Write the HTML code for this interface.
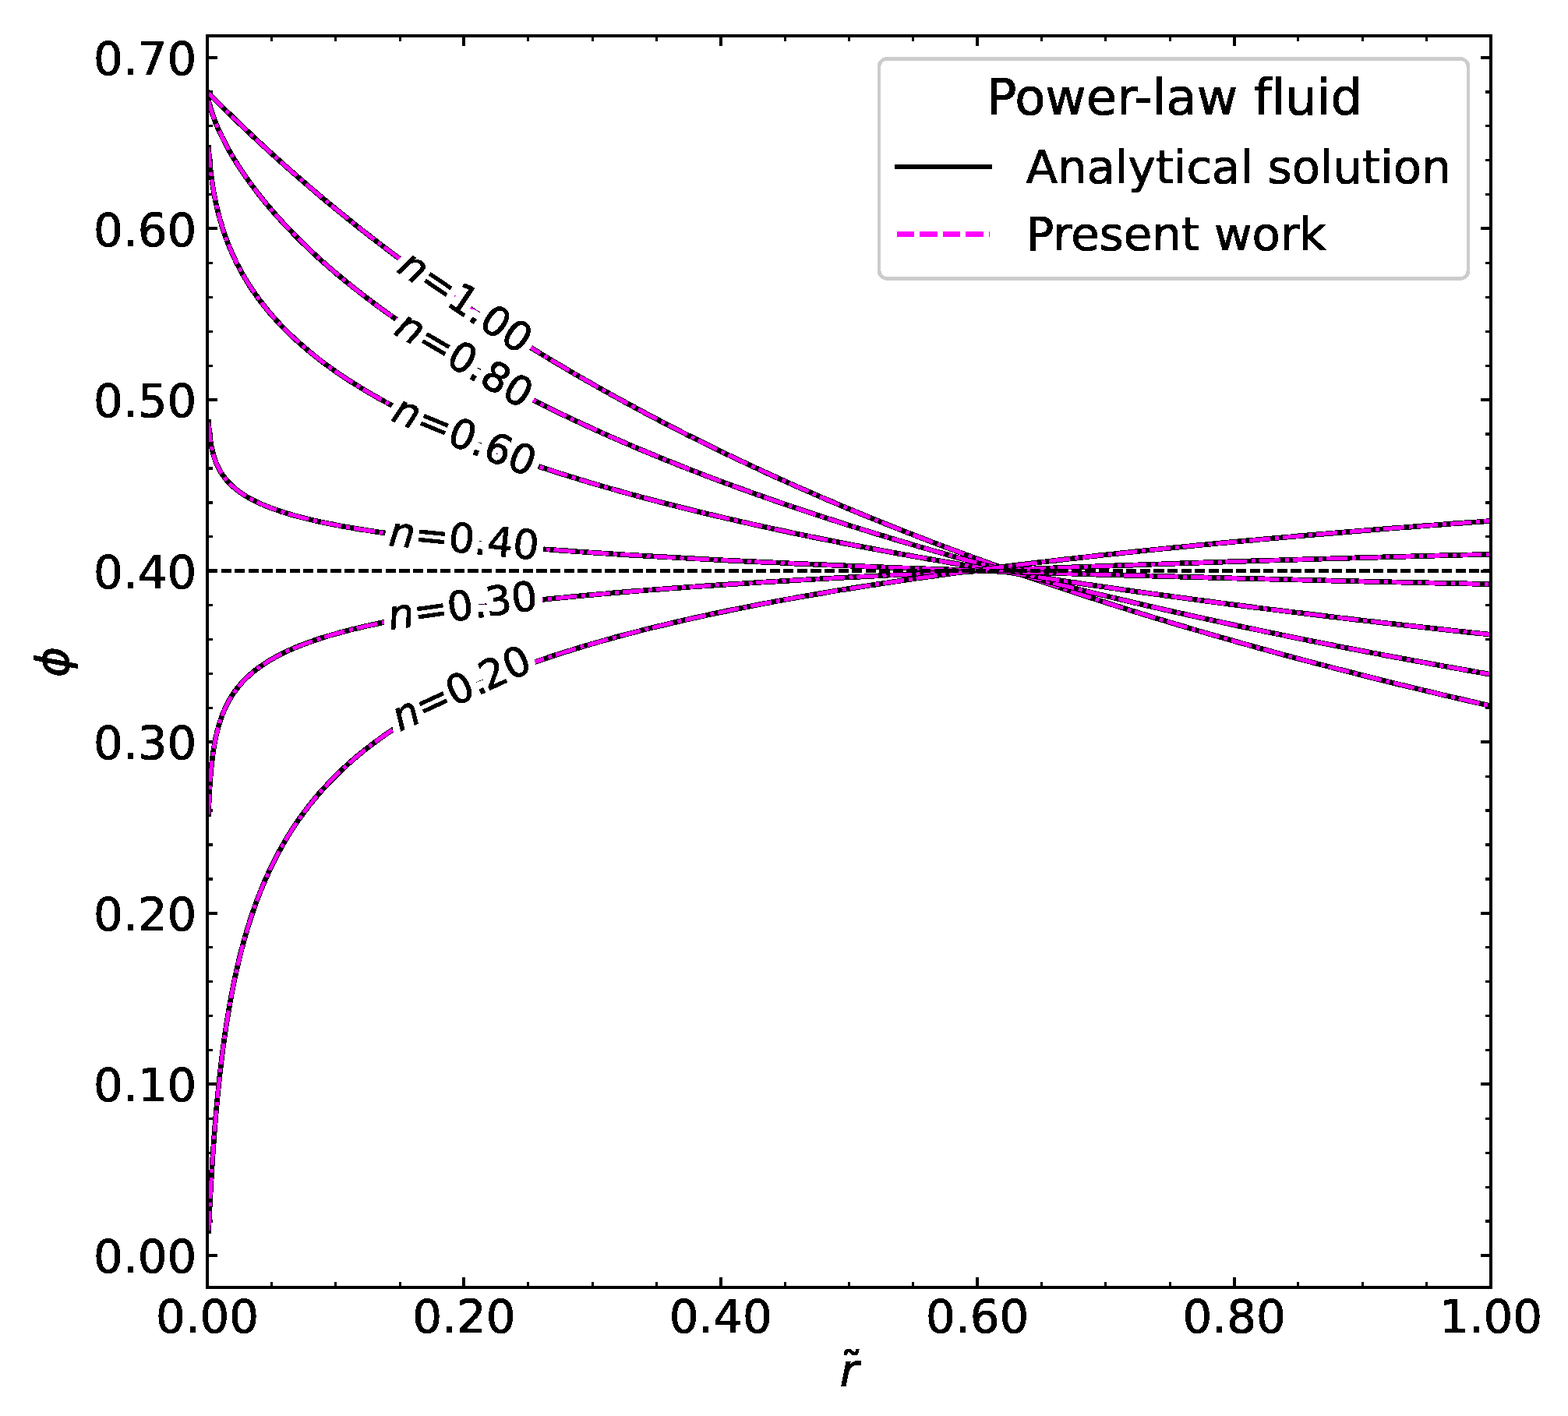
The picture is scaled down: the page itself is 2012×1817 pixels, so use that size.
<!DOCTYPE html>
<html lang="en">
<head>
<meta charset="utf-8">
<title>Power-law fluid: particle concentration profiles</title>
<style>
html,body{margin:0;padding:0;background:#fff;}
body{width:2012px;height:1817px;overflow:hidden;}
svg{display:block;}
text{font-kerning:normal;font-variant-ligatures:none;font-feature-settings:"liga" 0,"kern" 1;}
</style>
</head>
<body>
<svg width="2012" height="1817" viewBox="0 0 2012 1817" role="img" aria-label="Particle volume fraction versus dimensionless radius for a power-law fluid">
<defs><clipPath id="ax"><rect x="266" y="46" width="1647" height="1606"/></clipPath>
<filter id="crisp" filterUnits="userSpaceOnUse" x="0" y="0" width="2012" height="1817" color-interpolation-filters="sRGB"><feComponentTransfer><feFuncR type="discrete" tableValues="0 0 1 1"/><feFuncG type="discrete" tableValues="0 0 1 1"/><feFuncB type="discrete" tableValues="0 0 1 1"/></feComponentTransfer></filter></defs>
<g filter="url(#crisp)">
<rect width="2012" height="1817" fill="#fff"/>
<path d="M266.00 1652 v-13 M266.00 46 v13 M595.00 1652 v-13 M595.00 46 v13 M925.00 1652 v-13 M925.00 46 v13 M1254.00 1652 v-13 M1254.00 46 v13 M1584.00 1652 v-13 M1584.00 46 v13 M1913.00 1652 v-13 M1913.00 46 v13 M266 1611.00 h13 M1913 1611.00 h-13 M266 1391.00 h13 M1913 1391.00 h-13 M266 1172.00 h13 M1913 1172.00 h-13 M266 952.00 h13 M1913 952.00 h-13 M266 733.00 h13 M1913 733.00 h-13 M266 513.00 h13 M1913 513.00 h-13 M266 293.00 h13 M1913 293.00 h-13 M266 74.00 h13 M1913 74.00 h-13" stroke="#000" stroke-width="4" fill="none"/>
<path d="M348.35 1652 v-7 M348.35 46 v7 M430.70 1652 v-7 M430.70 46 v7 M513.05 1652 v-7 M513.05 46 v7 M677.75 1652 v-7 M677.75 46 v7 M760.10 1652 v-7 M760.10 46 v7 M842.45 1652 v-7 M842.45 46 v7 M1007.15 1652 v-7 M1007.15 46 v7 M1089.50 1652 v-7 M1089.50 46 v7 M1171.85 1652 v-7 M1171.85 46 v7 M1336.55 1652 v-7 M1336.55 46 v7 M1418.90 1652 v-7 M1418.90 46 v7 M1501.25 1652 v-7 M1501.25 46 v7 M1665.95 1652 v-7 M1665.95 46 v7 M1748.30 1652 v-7 M1748.30 46 v7 M1830.65 1652 v-7 M1830.65 46 v7 M266 1567.09 h7 M1913 1567.09 h-7 M266 1523.17 h7 M1913 1523.17 h-7 M266 1479.26 h7 M1913 1479.26 h-7 M266 1435.34 h7 M1913 1435.34 h-7 M266 1347.52 h7 M1913 1347.52 h-7 M266 1303.60 h7 M1913 1303.60 h-7 M266 1259.69 h7 M1913 1259.69 h-7 M266 1215.77 h7 M1913 1215.77 h-7 M266 1127.95 h7 M1913 1127.95 h-7 M266 1084.03 h7 M1913 1084.03 h-7 M266 1040.12 h7 M1913 1040.12 h-7 M266 996.20 h7 M1913 996.20 h-7 M266 908.38 h7 M1913 908.38 h-7 M266 864.46 h7 M1913 864.46 h-7 M266 820.55 h7 M1913 820.55 h-7 M266 776.63 h7 M1913 776.63 h-7 M266 688.81 h7 M1913 688.81 h-7 M266 644.89 h7 M1913 644.89 h-7 M266 600.98 h7 M1913 600.98 h-7 M266 557.06 h7 M1913 557.06 h-7 M266 469.24 h7 M1913 469.24 h-7 M266 425.32 h7 M1913 425.32 h-7 M266 381.41 h7 M1913 381.41 h-7 M266 337.49 h7 M1913 337.49 h-7 M266 249.67 h7 M1913 249.67 h-7 M266 205.75 h7 M1913 205.75 h-7 M266 161.84 h7 M1913 161.84 h-7 M266 117.92 h7 M1913 117.92 h-7" stroke="#000" stroke-width="3" fill="none"/>
<g clip-path="url(#ax)" fill="none" stroke-linejoin="round">
<polyline points="267.65,119.59 267.72,119.67 267.80,119.74 267.88,119.82 267.96,119.91 268.05,120.00 268.14,120.09 268.24,120.19 268.34,120.29 268.45,120.40 268.56,120.51 268.67,120.62 268.79,120.75 268.92,120.87 269.05,121.00 269.18,121.14 269.33,121.29 269.48,121.44 269.63,121.59 269.80,121.76 269.97,121.93 270.15,122.11 270.33,122.30 270.53,122.49 270.73,122.70 270.94,122.91 271.16,123.14 271.40,123.37 271.64,123.61 271.89,123.87 272.16,124.13 272.43,124.41 272.72,124.70 273.03,125.01 273.34,125.32 273.67,125.65 274.02,126.00 274.38,126.36 274.75,126.74 275.15,127.13 275.56,127.54 275.99,127.97 276.43,128.42 276.90,128.89 277.39,129.37 277.90,129.89 278.44,130.42 279.00,130.97 279.58,131.56 280.19,132.16 280.83,132.80 281.50,133.46 282.19,134.15 282.92,134.87 283.68,135.62 284.48,136.41 285.31,137.23 286.17,138.08 287.08,138.97 288.03,139.91 289.02,140.88 290.05,141.89 291.13,142.95 292.26,144.06 293.44,145.21 294.68,146.41 295.96,147.67 297.31,148.98 298.72,150.34 300.19,151.77 301.72,153.25 303.33,154.80 305.01,156.41 306.76,158.10 308.59,159.85 310.51,161.68 312.50,163.59 314.59,165.57 316.78,167.64 319.06,169.80 321.44,172.04 323.94,174.38 326.54,176.82 329.26,179.36 332.10,182.00 335.07,184.75 338.18,187.61 341.42,190.59 344.81,193.69 348.35,196.92 354.39,202.39 360.43,207.81 366.47,213.19 372.51,218.54 378.56,223.84 384.60,229.10 390.64,234.32 396.68,239.50 402.72,244.65 408.76,249.75 414.80,254.82 420.84,259.85 426.88,264.84 432.93,269.80 438.97,274.71 445.01,279.60 451.05,284.45 457.09,289.26 463.13,294.04 469.17,298.78 475.21,303.49 481.25,308.16 487.30,312.81 493.34,317.41 499.38,321.99 505.42,326.54 511.46,331.05 517.50,335.53 523.54,339.98 529.58,344.40 535.62,348.78 541.67,353.14 547.71,357.47 553.75,361.77 559.79,366.04 565.83,370.28 571.87,374.49 577.91,378.67 583.95,382.82 589.99,386.95 596.04,391.05 602.08,395.12 608.12,399.16 614.16,403.18 620.20,407.17 626.24,411.14 632.28,415.08 638.32,418.99 644.36,422.88 650.41,426.74 656.45,430.57 662.49,434.39 668.53,438.17 674.57,441.94 680.61,445.68 686.65,449.39 692.69,453.08 698.73,456.75 704.78,460.40 710.82,464.02 716.86,467.62 722.90,471.20 728.94,474.75 734.98,478.28 741.02,481.79 747.06,485.28 753.11,488.75 759.15,492.20 765.19,495.62 771.23,499.03 777.27,502.41 783.31,505.77 789.35,509.11 795.39,512.44 801.43,515.74 807.48,519.02 813.52,522.28 819.56,525.53 825.60,528.75 831.64,531.96 837.68,535.14 843.72,538.31 849.76,541.46 855.80,544.59 861.85,547.70 867.89,550.80 873.93,553.87 879.97,556.93 886.01,559.97 892.05,563.00 898.09,566.00 904.13,568.99 910.17,571.96 916.22,574.92 922.26,577.85 928.30,580.78 934.34,583.68 940.38,586.57 946.42,589.44 952.46,592.30 958.50,595.14 964.54,597.96 970.59,600.77 976.63,603.57 982.67,606.34 988.71,609.11 994.75,611.85 1000.79,614.59 1006.83,617.30 1012.87,620.01 1018.91,622.69 1024.96,625.37 1031.00,628.03 1037.04,630.67 1043.08,633.30 1049.12,635.92 1055.16,638.52 1061.20,641.11 1067.24,643.69 1073.28,646.25 1079.33,648.80 1085.37,651.33 1091.41,653.85 1097.45,656.36 1103.49,658.85 1109.53,661.34 1115.57,663.80 1121.61,666.26 1127.65,668.70 1133.70,671.13 1139.74,673.55 1145.78,675.96 1151.82,678.35 1157.86,680.73 1163.90,683.10 1169.94,685.46 1175.98,687.81 1182.02,690.14 1188.07,692.46 1194.11,694.77 1200.15,697.07 1206.19,699.36 1212.23,701.63 1218.27,703.89 1224.31,706.15 1230.35,708.39 1236.39,710.62 1242.44,712.84 1248.48,715.05 1254.52,717.25 1260.56,719.43 1266.60,721.61 1272.64,723.78 1278.68,725.93 1284.72,728.08 1290.76,730.21 1296.81,732.33 1302.85,734.45 1308.89,736.55 1314.93,738.65 1320.97,740.73 1327.01,742.80 1333.05,744.87 1339.09,746.92 1345.13,748.97 1351.18,751.00 1357.22,753.03 1363.26,755.04 1369.30,757.05 1375.34,759.04 1381.38,761.03 1387.42,763.01 1393.46,764.98 1399.50,766.94 1405.55,768.89 1411.59,770.83 1417.63,772.76 1423.67,774.69 1429.71,776.60 1435.75,778.51 1441.79,780.41 1447.83,782.30 1453.87,784.18 1459.92,786.05 1465.96,787.91 1472.00,789.77 1478.04,791.62 1484.08,793.45 1490.12,795.29 1496.16,797.11 1502.20,798.92 1508.24,800.73 1514.29,802.53 1520.33,804.32 1526.37,806.10 1532.41,807.87 1538.45,809.64 1544.49,811.40 1550.53,813.15 1556.57,814.89 1562.62,816.63 1568.66,818.36 1574.70,820.08 1580.74,821.79 1586.78,823.50 1592.82,825.19 1598.86,826.88 1604.90,828.57 1610.94,830.25 1616.99,831.92 1623.03,833.58 1629.07,835.23 1635.11,836.88 1641.15,838.52 1647.19,840.16 1653.23,841.78 1659.27,843.40 1665.31,845.02 1671.36,846.63 1677.40,848.23 1683.44,849.82 1689.48,851.41 1695.52,852.99 1701.56,854.56 1707.60,856.13 1713.64,857.69 1719.68,859.24 1725.73,860.79 1731.77,862.33 1737.81,863.87 1743.85,865.40 1749.89,866.92 1755.93,868.44 1761.97,869.95 1768.01,871.45 1774.05,872.95 1780.10,874.44 1786.14,875.93 1792.18,877.41 1798.22,878.88 1804.26,880.35 1810.30,881.81 1816.34,883.27 1822.38,884.72 1828.42,886.16 1834.47,887.60 1840.51,889.04 1846.55,890.46 1852.59,891.89 1858.63,893.30 1864.67,894.71 1870.71,896.12 1876.75,897.52 1882.79,898.91 1888.84,900.30 1894.88,901.69 1900.92,903.06 1906.96,904.44 1913.00,905.80" stroke="#000" stroke-width="6.7" stroke-linecap="square"/>
<polyline points="267.65,119.59 267.72,119.67 267.80,119.74 267.88,119.82 267.96,119.91 268.05,120.00 268.14,120.09 268.24,120.19 268.34,120.29 268.45,120.40 268.56,120.51 268.67,120.62 268.79,120.75 268.92,120.87 269.05,121.00 269.18,121.14 269.33,121.29 269.48,121.44 269.63,121.59 269.80,121.76 269.97,121.93 270.15,122.11 270.33,122.30 270.53,122.49 270.73,122.70 270.94,122.91 271.16,123.14 271.40,123.37 271.64,123.61 271.89,123.87 272.16,124.13 272.43,124.41 272.72,124.70 273.03,125.01 273.34,125.32 273.67,125.65 274.02,126.00 274.38,126.36 274.75,126.74 275.15,127.13 275.56,127.54 275.99,127.97 276.43,128.42 276.90,128.89 277.39,129.37 277.90,129.89 278.44,130.42 279.00,130.97 279.58,131.56 280.19,132.16 280.83,132.80 281.50,133.46 282.19,134.15 282.92,134.87 283.68,135.62 284.48,136.41 285.31,137.23 286.17,138.08 287.08,138.97 288.03,139.91 289.02,140.88 290.05,141.89 291.13,142.95 292.26,144.06 293.44,145.21 294.68,146.41 295.96,147.67 297.31,148.98 298.72,150.34 300.19,151.77 301.72,153.25 303.33,154.80 305.01,156.41 306.76,158.10 308.59,159.85 310.51,161.68 312.50,163.59 314.59,165.57 316.78,167.64 319.06,169.80 321.44,172.04 323.94,174.38 326.54,176.82 329.26,179.36 332.10,182.00 335.07,184.75 338.18,187.61 341.42,190.59 344.81,193.69 348.35,196.92 354.39,202.39 360.43,207.81 366.47,213.19 372.51,218.54 378.56,223.84 384.60,229.10 390.64,234.32 396.68,239.50 402.72,244.65 408.76,249.75 414.80,254.82 420.84,259.85 426.88,264.84 432.93,269.80 438.97,274.71 445.01,279.60 451.05,284.45 457.09,289.26 463.13,294.04 469.17,298.78 475.21,303.49 481.25,308.16 487.30,312.81 493.34,317.41 499.38,321.99 505.42,326.54 511.46,331.05 517.50,335.53 523.54,339.98 529.58,344.40 535.62,348.78 541.67,353.14 547.71,357.47 553.75,361.77 559.79,366.04 565.83,370.28 571.87,374.49 577.91,378.67 583.95,382.82 589.99,386.95 596.04,391.05 602.08,395.12 608.12,399.16 614.16,403.18 620.20,407.17 626.24,411.14 632.28,415.08 638.32,418.99 644.36,422.88 650.41,426.74 656.45,430.57 662.49,434.39 668.53,438.17 674.57,441.94 680.61,445.68 686.65,449.39 692.69,453.08 698.73,456.75 704.78,460.40 710.82,464.02 716.86,467.62 722.90,471.20 728.94,474.75 734.98,478.28 741.02,481.79 747.06,485.28 753.11,488.75 759.15,492.20 765.19,495.62 771.23,499.03 777.27,502.41 783.31,505.77 789.35,509.11 795.39,512.44 801.43,515.74 807.48,519.02 813.52,522.28 819.56,525.53 825.60,528.75 831.64,531.96 837.68,535.14 843.72,538.31 849.76,541.46 855.80,544.59 861.85,547.70 867.89,550.80 873.93,553.87 879.97,556.93 886.01,559.97 892.05,563.00 898.09,566.00 904.13,568.99 910.17,571.96 916.22,574.92 922.26,577.85 928.30,580.78 934.34,583.68 940.38,586.57 946.42,589.44 952.46,592.30 958.50,595.14 964.54,597.96 970.59,600.77 976.63,603.57 982.67,606.34 988.71,609.11 994.75,611.85 1000.79,614.59 1006.83,617.30 1012.87,620.01 1018.91,622.69 1024.96,625.37 1031.00,628.03 1037.04,630.67 1043.08,633.30 1049.12,635.92 1055.16,638.52 1061.20,641.11 1067.24,643.69 1073.28,646.25 1079.33,648.80 1085.37,651.33 1091.41,653.85 1097.45,656.36 1103.49,658.85 1109.53,661.34 1115.57,663.80 1121.61,666.26 1127.65,668.70 1133.70,671.13 1139.74,673.55 1145.78,675.96 1151.82,678.35 1157.86,680.73 1163.90,683.10 1169.94,685.46 1175.98,687.81 1182.02,690.14 1188.07,692.46 1194.11,694.77 1200.15,697.07 1206.19,699.36 1212.23,701.63 1218.27,703.89 1224.31,706.15 1230.35,708.39 1236.39,710.62 1242.44,712.84 1248.48,715.05 1254.52,717.25 1260.56,719.43 1266.60,721.61 1272.64,723.78 1278.68,725.93 1284.72,728.08 1290.76,730.21 1296.81,732.33 1302.85,734.45 1308.89,736.55 1314.93,738.65 1320.97,740.73 1327.01,742.80 1333.05,744.87 1339.09,746.92 1345.13,748.97 1351.18,751.00 1357.22,753.03 1363.26,755.04 1369.30,757.05 1375.34,759.04 1381.38,761.03 1387.42,763.01 1393.46,764.98 1399.50,766.94 1405.55,768.89 1411.59,770.83 1417.63,772.76 1423.67,774.69 1429.71,776.60 1435.75,778.51 1441.79,780.41 1447.83,782.30 1453.87,784.18 1459.92,786.05 1465.96,787.91 1472.00,789.77 1478.04,791.62 1484.08,793.45 1490.12,795.29 1496.16,797.11 1502.20,798.92 1508.24,800.73 1514.29,802.53 1520.33,804.32 1526.37,806.10 1532.41,807.87 1538.45,809.64 1544.49,811.40 1550.53,813.15 1556.57,814.89 1562.62,816.63 1568.66,818.36 1574.70,820.08 1580.74,821.79 1586.78,823.50 1592.82,825.19 1598.86,826.88 1604.90,828.57 1610.94,830.25 1616.99,831.92 1623.03,833.58 1629.07,835.23 1635.11,836.88 1641.15,838.52 1647.19,840.16 1653.23,841.78 1659.27,843.40 1665.31,845.02 1671.36,846.63 1677.40,848.23 1683.44,849.82 1689.48,851.41 1695.52,852.99 1701.56,854.56 1707.60,856.13 1713.64,857.69 1719.68,859.24 1725.73,860.79 1731.77,862.33 1737.81,863.87 1743.85,865.40 1749.89,866.92 1755.93,868.44 1761.97,869.95 1768.01,871.45 1774.05,872.95 1780.10,874.44 1786.14,875.93 1792.18,877.41 1798.22,878.88 1804.26,880.35 1810.30,881.81 1816.34,883.27 1822.38,884.72 1828.42,886.16 1834.47,887.60 1840.51,889.04 1846.55,890.46 1852.59,891.89 1858.63,893.30 1864.67,894.71 1870.71,896.12 1876.75,897.52 1882.79,898.91 1888.84,900.30 1894.88,901.69 1900.92,903.06 1906.96,904.44 1913.00,905.80" stroke="#f0f" stroke-width="5" stroke-dasharray="27.3 5.9 5.05 4.8" stroke-dashoffset="1.6"/>
<polyline points="267.65,128.94 267.72,129.28 267.80,129.62 267.88,129.98 267.96,130.35 268.05,130.73 268.14,131.12 268.24,131.52 268.34,131.94 268.45,132.37 268.56,132.81 268.67,133.26 268.79,133.73 268.92,134.22 269.05,134.71 269.18,135.23 269.33,135.75 269.48,136.30 269.63,136.86 269.80,137.43 269.97,138.03 270.15,138.64 270.33,139.27 270.53,139.92 270.73,140.59 270.94,141.28 271.16,141.99 271.40,142.72 271.64,143.47 271.89,144.25 272.16,145.05 272.43,145.87 272.72,146.72 273.03,147.59 273.34,148.49 273.67,149.42 274.02,150.37 274.38,151.35 274.75,152.36 275.15,153.40 275.56,154.47 275.99,155.57 276.43,156.71 276.90,157.88 277.39,159.08 277.90,160.32 278.44,161.60 279.00,162.91 279.58,164.26 280.19,165.65 280.83,167.08 281.50,168.55 282.19,170.07 282.92,171.63 283.68,173.23 284.48,174.88 285.31,176.58 286.17,178.33 287.08,180.13 288.03,181.98 289.02,183.88 290.05,185.84 291.13,187.85 292.26,189.92 293.44,192.05 294.68,194.24 295.96,196.49 297.31,198.80 298.72,201.18 300.19,203.62 301.72,206.14 303.33,208.72 305.01,211.38 306.76,214.10 308.59,216.91 310.51,219.79 312.50,222.74 314.59,225.78 316.78,228.91 319.06,232.11 321.44,235.40 323.94,238.78 326.54,242.25 329.26,245.82 332.10,249.47 335.07,253.22 338.18,257.07 341.42,261.03 344.81,265.08 348.35,269.24 354.39,276.16 360.43,282.87 366.47,289.41 372.51,295.77 378.56,301.98 384.60,308.03 390.64,313.95 396.68,319.73 402.72,325.40 408.76,330.94 414.80,336.38 420.84,341.71 426.88,346.94 432.93,352.08 438.97,357.12 445.01,362.08 451.05,366.96 457.09,371.75 463.13,376.47 469.17,381.12 475.21,385.70 481.25,390.21 487.30,394.65 493.34,399.03 499.38,403.35 505.42,407.61 511.46,411.81 517.50,415.95 523.54,420.04 529.58,424.08 535.62,428.07 541.67,432.01 547.71,435.90 553.75,439.75 559.79,443.55 565.83,447.31 571.87,451.02 577.91,454.69 583.95,458.32 589.99,461.91 596.04,465.46 602.08,468.98 608.12,472.45 614.16,475.89 620.20,479.30 626.24,482.67 632.28,486.01 638.32,489.31 644.36,492.58 650.41,495.82 656.45,499.03 662.49,502.21 668.53,505.36 674.57,508.48 680.61,511.57 686.65,514.63 692.69,517.67 698.73,520.68 704.78,523.66 710.82,526.62 716.86,529.55 722.90,532.45 728.94,535.33 734.98,538.19 741.02,541.02 747.06,543.83 753.11,546.62 759.15,549.38 765.19,552.12 771.23,554.84 777.27,557.54 783.31,560.22 789.35,562.87 795.39,565.51 801.43,568.12 807.48,570.72 813.52,573.30 819.56,575.85 825.60,578.39 831.64,580.91 837.68,583.41 843.72,585.89 849.76,588.36 855.80,590.81 861.85,593.23 867.89,595.65 873.93,598.04 879.97,600.42 886.01,602.78 892.05,605.13 898.09,607.46 904.13,609.78 910.17,612.08 916.22,614.36 922.26,616.63 928.30,618.88 934.34,621.12 940.38,623.34 946.42,625.55 952.46,627.75 958.50,629.93 964.54,632.10 970.59,634.25 976.63,636.39 982.67,638.52 988.71,640.63 994.75,642.73 1000.79,644.82 1006.83,646.90 1012.87,648.96 1018.91,651.01 1024.96,653.05 1031.00,655.07 1037.04,657.09 1043.08,659.09 1049.12,661.08 1055.16,663.06 1061.20,665.02 1067.24,666.98 1073.28,668.92 1079.33,670.85 1085.37,672.78 1091.41,674.69 1097.45,676.59 1103.49,678.48 1109.53,680.36 1115.57,682.23 1121.61,684.08 1127.65,685.93 1133.70,687.77 1139.74,689.60 1145.78,691.42 1151.82,693.22 1157.86,695.02 1163.90,696.81 1169.94,698.59 1175.98,700.36 1182.02,702.12 1188.07,703.87 1194.11,705.61 1200.15,707.35 1206.19,709.07 1212.23,710.79 1218.27,712.49 1224.31,714.19 1230.35,715.88 1236.39,717.56 1242.44,719.23 1248.48,720.90 1254.52,722.55 1260.56,724.20 1266.60,725.84 1272.64,727.47 1278.68,729.09 1284.72,730.70 1290.76,732.31 1296.81,733.91 1302.85,735.50 1308.89,737.09 1314.93,738.66 1320.97,740.23 1327.01,741.79 1333.05,743.34 1339.09,744.89 1345.13,746.43 1351.18,747.96 1357.22,749.49 1363.26,751.00 1369.30,752.51 1375.34,754.02 1381.38,755.51 1387.42,757.00 1393.46,758.49 1399.50,759.96 1405.55,761.43 1411.59,762.89 1417.63,764.35 1423.67,765.80 1429.71,767.24 1435.75,768.68 1441.79,770.11 1447.83,771.53 1453.87,772.95 1459.92,774.36 1465.96,775.77 1472.00,777.17 1478.04,778.56 1484.08,779.95 1490.12,781.33 1496.16,782.70 1502.20,784.07 1508.24,785.43 1514.29,786.79 1520.33,788.14 1526.37,789.49 1532.41,790.83 1538.45,792.16 1544.49,793.49 1550.53,794.82 1556.57,796.13 1562.62,797.45 1568.66,798.75 1574.70,800.05 1580.74,801.35 1586.78,802.64 1592.82,803.93 1598.86,805.21 1604.90,806.48 1610.94,807.75 1616.99,809.02 1623.03,810.28 1629.07,811.53 1635.11,812.78 1641.15,814.03 1647.19,815.27 1653.23,816.50 1659.27,817.73 1665.31,818.96 1671.36,820.18 1677.40,821.39 1683.44,822.60 1689.48,823.81 1695.52,825.01 1701.56,826.21 1707.60,827.40 1713.64,828.59 1719.68,829.77 1725.73,830.95 1731.77,832.12 1737.81,833.29 1743.85,834.46 1749.89,835.62 1755.93,836.78 1761.97,837.93 1768.01,839.08 1774.05,840.22 1780.10,841.36 1786.14,842.49 1792.18,843.62 1798.22,844.75 1804.26,845.87 1810.30,846.99 1816.34,848.10 1822.38,849.21 1828.42,850.32 1834.47,851.42 1840.51,852.52 1846.55,853.61 1852.59,854.70 1858.63,855.79 1864.67,856.87 1870.71,857.95 1876.75,859.03 1882.79,860.10 1888.84,861.16 1894.88,862.23 1900.92,863.29 1906.96,864.34 1913.00,865.39" stroke="#000" stroke-width="6.7" stroke-linecap="square"/>
<polyline points="267.65,128.94 267.72,129.28 267.80,129.62 267.88,129.98 267.96,130.35 268.05,130.73 268.14,131.12 268.24,131.52 268.34,131.94 268.45,132.37 268.56,132.81 268.67,133.26 268.79,133.73 268.92,134.22 269.05,134.71 269.18,135.23 269.33,135.75 269.48,136.30 269.63,136.86 269.80,137.43 269.97,138.03 270.15,138.64 270.33,139.27 270.53,139.92 270.73,140.59 270.94,141.28 271.16,141.99 271.40,142.72 271.64,143.47 271.89,144.25 272.16,145.05 272.43,145.87 272.72,146.72 273.03,147.59 273.34,148.49 273.67,149.42 274.02,150.37 274.38,151.35 274.75,152.36 275.15,153.40 275.56,154.47 275.99,155.57 276.43,156.71 276.90,157.88 277.39,159.08 277.90,160.32 278.44,161.60 279.00,162.91 279.58,164.26 280.19,165.65 280.83,167.08 281.50,168.55 282.19,170.07 282.92,171.63 283.68,173.23 284.48,174.88 285.31,176.58 286.17,178.33 287.08,180.13 288.03,181.98 289.02,183.88 290.05,185.84 291.13,187.85 292.26,189.92 293.44,192.05 294.68,194.24 295.96,196.49 297.31,198.80 298.72,201.18 300.19,203.62 301.72,206.14 303.33,208.72 305.01,211.38 306.76,214.10 308.59,216.91 310.51,219.79 312.50,222.74 314.59,225.78 316.78,228.91 319.06,232.11 321.44,235.40 323.94,238.78 326.54,242.25 329.26,245.82 332.10,249.47 335.07,253.22 338.18,257.07 341.42,261.03 344.81,265.08 348.35,269.24 354.39,276.16 360.43,282.87 366.47,289.41 372.51,295.77 378.56,301.98 384.60,308.03 390.64,313.95 396.68,319.73 402.72,325.40 408.76,330.94 414.80,336.38 420.84,341.71 426.88,346.94 432.93,352.08 438.97,357.12 445.01,362.08 451.05,366.96 457.09,371.75 463.13,376.47 469.17,381.12 475.21,385.70 481.25,390.21 487.30,394.65 493.34,399.03 499.38,403.35 505.42,407.61 511.46,411.81 517.50,415.95 523.54,420.04 529.58,424.08 535.62,428.07 541.67,432.01 547.71,435.90 553.75,439.75 559.79,443.55 565.83,447.31 571.87,451.02 577.91,454.69 583.95,458.32 589.99,461.91 596.04,465.46 602.08,468.98 608.12,472.45 614.16,475.89 620.20,479.30 626.24,482.67 632.28,486.01 638.32,489.31 644.36,492.58 650.41,495.82 656.45,499.03 662.49,502.21 668.53,505.36 674.57,508.48 680.61,511.57 686.65,514.63 692.69,517.67 698.73,520.68 704.78,523.66 710.82,526.62 716.86,529.55 722.90,532.45 728.94,535.33 734.98,538.19 741.02,541.02 747.06,543.83 753.11,546.62 759.15,549.38 765.19,552.12 771.23,554.84 777.27,557.54 783.31,560.22 789.35,562.87 795.39,565.51 801.43,568.12 807.48,570.72 813.52,573.30 819.56,575.85 825.60,578.39 831.64,580.91 837.68,583.41 843.72,585.89 849.76,588.36 855.80,590.81 861.85,593.23 867.89,595.65 873.93,598.04 879.97,600.42 886.01,602.78 892.05,605.13 898.09,607.46 904.13,609.78 910.17,612.08 916.22,614.36 922.26,616.63 928.30,618.88 934.34,621.12 940.38,623.34 946.42,625.55 952.46,627.75 958.50,629.93 964.54,632.10 970.59,634.25 976.63,636.39 982.67,638.52 988.71,640.63 994.75,642.73 1000.79,644.82 1006.83,646.90 1012.87,648.96 1018.91,651.01 1024.96,653.05 1031.00,655.07 1037.04,657.09 1043.08,659.09 1049.12,661.08 1055.16,663.06 1061.20,665.02 1067.24,666.98 1073.28,668.92 1079.33,670.85 1085.37,672.78 1091.41,674.69 1097.45,676.59 1103.49,678.48 1109.53,680.36 1115.57,682.23 1121.61,684.08 1127.65,685.93 1133.70,687.77 1139.74,689.60 1145.78,691.42 1151.82,693.22 1157.86,695.02 1163.90,696.81 1169.94,698.59 1175.98,700.36 1182.02,702.12 1188.07,703.87 1194.11,705.61 1200.15,707.35 1206.19,709.07 1212.23,710.79 1218.27,712.49 1224.31,714.19 1230.35,715.88 1236.39,717.56 1242.44,719.23 1248.48,720.90 1254.52,722.55 1260.56,724.20 1266.60,725.84 1272.64,727.47 1278.68,729.09 1284.72,730.70 1290.76,732.31 1296.81,733.91 1302.85,735.50 1308.89,737.09 1314.93,738.66 1320.97,740.23 1327.01,741.79 1333.05,743.34 1339.09,744.89 1345.13,746.43 1351.18,747.96 1357.22,749.49 1363.26,751.00 1369.30,752.51 1375.34,754.02 1381.38,755.51 1387.42,757.00 1393.46,758.49 1399.50,759.96 1405.55,761.43 1411.59,762.89 1417.63,764.35 1423.67,765.80 1429.71,767.24 1435.75,768.68 1441.79,770.11 1447.83,771.53 1453.87,772.95 1459.92,774.36 1465.96,775.77 1472.00,777.17 1478.04,778.56 1484.08,779.95 1490.12,781.33 1496.16,782.70 1502.20,784.07 1508.24,785.43 1514.29,786.79 1520.33,788.14 1526.37,789.49 1532.41,790.83 1538.45,792.16 1544.49,793.49 1550.53,794.82 1556.57,796.13 1562.62,797.45 1568.66,798.75 1574.70,800.05 1580.74,801.35 1586.78,802.64 1592.82,803.93 1598.86,805.21 1604.90,806.48 1610.94,807.75 1616.99,809.02 1623.03,810.28 1629.07,811.53 1635.11,812.78 1641.15,814.03 1647.19,815.27 1653.23,816.50 1659.27,817.73 1665.31,818.96 1671.36,820.18 1677.40,821.39 1683.44,822.60 1689.48,823.81 1695.52,825.01 1701.56,826.21 1707.60,827.40 1713.64,828.59 1719.68,829.77 1725.73,830.95 1731.77,832.12 1737.81,833.29 1743.85,834.46 1749.89,835.62 1755.93,836.78 1761.97,837.93 1768.01,839.08 1774.05,840.22 1780.10,841.36 1786.14,842.49 1792.18,843.62 1798.22,844.75 1804.26,845.87 1810.30,846.99 1816.34,848.10 1822.38,849.21 1828.42,850.32 1834.47,851.42 1840.51,852.52 1846.55,853.61 1852.59,854.70 1858.63,855.79 1864.67,856.87 1870.71,857.95 1876.75,859.03 1882.79,860.10 1888.84,861.16 1894.88,862.23 1900.92,863.29 1906.96,864.34 1913.00,865.39" stroke="#f0f" stroke-width="5" stroke-dasharray="27.3 5.9 5.05 4.8" stroke-dashoffset="1.6"/>
<polyline points="267.65,189.23 267.72,190.39 267.80,191.58 267.88,192.78 267.96,194.00 268.05,195.24 268.14,196.51 268.24,197.79 268.34,199.09 268.45,200.41 268.56,201.75 268.67,203.11 268.79,204.50 268.92,205.91 269.05,207.33 269.18,208.78 269.33,210.26 269.48,211.75 269.63,213.27 269.80,214.81 269.97,216.38 270.15,217.97 270.33,219.59 270.53,221.23 270.73,222.89 270.94,224.58 271.16,226.30 271.40,228.04 271.64,229.81 271.89,231.61 272.16,233.44 272.43,235.29 272.72,237.17 273.03,239.08 273.34,241.01 273.67,242.98 274.02,244.98 274.38,247.00 274.75,249.06 275.15,251.15 275.56,253.26 275.99,255.41 276.43,257.60 276.90,259.81 277.39,262.06 277.90,264.34 278.44,266.65 279.00,269.00 279.58,271.38 280.19,273.80 280.83,276.25 281.50,278.74 282.19,281.27 282.92,283.83 283.68,286.42 284.48,289.06 285.31,291.73 286.17,294.44 287.08,297.19 288.03,299.98 289.02,302.81 290.05,305.68 291.13,308.59 292.26,311.54 293.44,314.53 294.68,317.56 295.96,320.64 297.31,323.75 298.72,326.91 300.19,330.12 301.72,333.37 303.33,336.66 305.01,339.99 306.76,343.38 308.59,346.80 310.51,350.28 312.50,353.80 314.59,357.36 316.78,360.98 319.06,364.64 321.44,368.35 323.94,372.11 326.54,375.91 329.26,379.77 332.10,383.68 335.07,387.63 338.18,391.64 341.42,395.70 344.81,399.80 348.35,403.96 354.39,410.77 360.43,417.25 366.47,423.44 372.51,429.36 378.56,435.04 384.60,440.51 390.64,445.77 396.68,450.85 402.72,455.76 408.76,460.51 414.80,465.12 420.84,469.59 426.88,473.93 432.93,478.15 438.97,482.25 445.01,486.26 451.05,490.16 457.09,493.96 463.13,497.68 469.17,501.31 475.21,504.86 481.25,508.33 487.30,511.73 493.34,515.06 499.38,518.33 505.42,521.53 511.46,524.66 517.50,527.74 523.54,530.77 529.58,533.73 535.62,536.65 541.67,539.52 547.71,542.33 553.75,545.11 559.79,547.83 565.83,550.52 571.87,553.16 577.91,555.76 583.95,558.32 589.99,560.85 596.04,563.33 602.08,565.79 608.12,568.20 614.16,570.59 620.20,572.94 626.24,575.26 632.28,577.55 638.32,579.81 644.36,582.04 650.41,584.25 656.45,586.42 662.49,588.57 668.53,590.70 674.57,592.80 680.61,594.87 686.65,596.92 692.69,598.95 698.73,600.95 704.78,602.93 710.82,604.89 716.86,606.83 722.90,608.74 728.94,610.64 734.98,612.52 741.02,614.38 747.06,616.22 753.11,618.04 759.15,619.84 765.19,621.62 771.23,623.39 777.27,625.14 783.31,626.87 789.35,628.59 795.39,630.29 801.43,631.97 807.48,633.64 813.52,635.30 819.56,636.94 825.60,638.56 831.64,640.17 837.68,641.77 843.72,643.35 849.76,644.92 855.80,646.47 861.85,648.02 867.89,649.55 873.93,651.06 879.97,652.57 886.01,654.06 892.05,655.54 898.09,657.01 904.13,658.47 910.17,659.91 916.22,661.35 922.26,662.77 928.30,664.18 934.34,665.59 940.38,666.98 946.42,668.36 952.46,669.73 958.50,671.09 964.54,672.44 970.59,673.78 976.63,675.11 982.67,676.44 988.71,677.75 994.75,679.05 1000.79,680.35 1006.83,681.63 1012.87,682.91 1018.91,684.18 1024.96,685.44 1031.00,686.69 1037.04,687.93 1043.08,689.17 1049.12,690.40 1055.16,691.61 1061.20,692.83 1067.24,694.03 1073.28,695.22 1079.33,696.41 1085.37,697.59 1091.41,698.77 1097.45,699.93 1103.49,701.09 1109.53,702.24 1115.57,703.39 1121.61,704.53 1127.65,705.66 1133.70,706.78 1139.74,707.90 1145.78,709.01 1151.82,710.11 1157.86,711.21 1163.90,712.30 1169.94,713.39 1175.98,714.47 1182.02,715.54 1188.07,716.61 1194.11,717.67 1200.15,718.72 1206.19,719.77 1212.23,720.82 1218.27,721.85 1224.31,722.89 1230.35,723.91 1236.39,724.93 1242.44,725.95 1248.48,726.96 1254.52,727.96 1260.56,728.96 1266.60,729.96 1272.64,730.95 1278.68,731.93 1284.72,732.91 1290.76,733.88 1296.81,734.85 1302.85,735.82 1308.89,736.78 1314.93,737.73 1320.97,738.68 1327.01,739.62 1333.05,740.56 1339.09,741.50 1345.13,742.43 1351.18,743.36 1357.22,744.28 1363.26,745.20 1369.30,746.11 1375.34,747.02 1381.38,747.92 1387.42,748.82 1393.46,749.72 1399.50,750.61 1405.55,751.50 1411.59,752.38 1417.63,753.26 1423.67,754.14 1429.71,755.01 1435.75,755.87 1441.79,756.74 1447.83,757.60 1453.87,758.45 1459.92,759.31 1465.96,760.15 1472.00,761.00 1478.04,761.84 1484.08,762.67 1490.12,763.51 1496.16,764.34 1502.20,765.16 1508.24,765.99 1514.29,766.80 1520.33,767.62 1526.37,768.43 1532.41,769.24 1538.45,770.05 1544.49,770.85 1550.53,771.65 1556.57,772.44 1562.62,773.23 1568.66,774.02 1574.70,774.81 1580.74,775.59 1586.78,776.37 1592.82,777.14 1598.86,777.92 1604.90,778.68 1610.94,779.45 1616.99,780.21 1623.03,780.97 1629.07,781.73 1635.11,782.49 1641.15,783.24 1647.19,783.99 1653.23,784.73 1659.27,785.47 1665.31,786.21 1671.36,786.95 1677.40,787.68 1683.44,788.41 1689.48,789.14 1695.52,789.87 1701.56,790.59 1707.60,791.31 1713.64,792.03 1719.68,792.74 1725.73,793.45 1731.77,794.16 1737.81,794.87 1743.85,795.57 1749.89,796.28 1755.93,796.98 1761.97,797.67 1768.01,798.37 1774.05,799.06 1780.10,799.75 1786.14,800.43 1792.18,801.12 1798.22,801.80 1804.26,802.48 1810.30,803.15 1816.34,803.83 1822.38,804.50 1828.42,805.17 1834.47,805.84 1840.51,806.50 1846.55,807.16 1852.59,807.82 1858.63,808.48 1864.67,809.14 1870.71,809.79 1876.75,810.44 1882.79,811.09 1888.84,811.74 1894.88,812.38 1900.92,813.02 1906.96,813.67 1913.00,814.30" stroke="#000" stroke-width="6.7" stroke-linecap="square"/>
<polyline points="267.65,189.23 267.72,190.39 267.80,191.58 267.88,192.78 267.96,194.00 268.05,195.24 268.14,196.51 268.24,197.79 268.34,199.09 268.45,200.41 268.56,201.75 268.67,203.11 268.79,204.50 268.92,205.91 269.05,207.33 269.18,208.78 269.33,210.26 269.48,211.75 269.63,213.27 269.80,214.81 269.97,216.38 270.15,217.97 270.33,219.59 270.53,221.23 270.73,222.89 270.94,224.58 271.16,226.30 271.40,228.04 271.64,229.81 271.89,231.61 272.16,233.44 272.43,235.29 272.72,237.17 273.03,239.08 273.34,241.01 273.67,242.98 274.02,244.98 274.38,247.00 274.75,249.06 275.15,251.15 275.56,253.26 275.99,255.41 276.43,257.60 276.90,259.81 277.39,262.06 277.90,264.34 278.44,266.65 279.00,269.00 279.58,271.38 280.19,273.80 280.83,276.25 281.50,278.74 282.19,281.27 282.92,283.83 283.68,286.42 284.48,289.06 285.31,291.73 286.17,294.44 287.08,297.19 288.03,299.98 289.02,302.81 290.05,305.68 291.13,308.59 292.26,311.54 293.44,314.53 294.68,317.56 295.96,320.64 297.31,323.75 298.72,326.91 300.19,330.12 301.72,333.37 303.33,336.66 305.01,339.99 306.76,343.38 308.59,346.80 310.51,350.28 312.50,353.80 314.59,357.36 316.78,360.98 319.06,364.64 321.44,368.35 323.94,372.11 326.54,375.91 329.26,379.77 332.10,383.68 335.07,387.63 338.18,391.64 341.42,395.70 344.81,399.80 348.35,403.96 354.39,410.77 360.43,417.25 366.47,423.44 372.51,429.36 378.56,435.04 384.60,440.51 390.64,445.77 396.68,450.85 402.72,455.76 408.76,460.51 414.80,465.12 420.84,469.59 426.88,473.93 432.93,478.15 438.97,482.25 445.01,486.26 451.05,490.16 457.09,493.96 463.13,497.68 469.17,501.31 475.21,504.86 481.25,508.33 487.30,511.73 493.34,515.06 499.38,518.33 505.42,521.53 511.46,524.66 517.50,527.74 523.54,530.77 529.58,533.73 535.62,536.65 541.67,539.52 547.71,542.33 553.75,545.11 559.79,547.83 565.83,550.52 571.87,553.16 577.91,555.76 583.95,558.32 589.99,560.85 596.04,563.33 602.08,565.79 608.12,568.20 614.16,570.59 620.20,572.94 626.24,575.26 632.28,577.55 638.32,579.81 644.36,582.04 650.41,584.25 656.45,586.42 662.49,588.57 668.53,590.70 674.57,592.80 680.61,594.87 686.65,596.92 692.69,598.95 698.73,600.95 704.78,602.93 710.82,604.89 716.86,606.83 722.90,608.74 728.94,610.64 734.98,612.52 741.02,614.38 747.06,616.22 753.11,618.04 759.15,619.84 765.19,621.62 771.23,623.39 777.27,625.14 783.31,626.87 789.35,628.59 795.39,630.29 801.43,631.97 807.48,633.64 813.52,635.30 819.56,636.94 825.60,638.56 831.64,640.17 837.68,641.77 843.72,643.35 849.76,644.92 855.80,646.47 861.85,648.02 867.89,649.55 873.93,651.06 879.97,652.57 886.01,654.06 892.05,655.54 898.09,657.01 904.13,658.47 910.17,659.91 916.22,661.35 922.26,662.77 928.30,664.18 934.34,665.59 940.38,666.98 946.42,668.36 952.46,669.73 958.50,671.09 964.54,672.44 970.59,673.78 976.63,675.11 982.67,676.44 988.71,677.75 994.75,679.05 1000.79,680.35 1006.83,681.63 1012.87,682.91 1018.91,684.18 1024.96,685.44 1031.00,686.69 1037.04,687.93 1043.08,689.17 1049.12,690.40 1055.16,691.61 1061.20,692.83 1067.24,694.03 1073.28,695.22 1079.33,696.41 1085.37,697.59 1091.41,698.77 1097.45,699.93 1103.49,701.09 1109.53,702.24 1115.57,703.39 1121.61,704.53 1127.65,705.66 1133.70,706.78 1139.74,707.90 1145.78,709.01 1151.82,710.11 1157.86,711.21 1163.90,712.30 1169.94,713.39 1175.98,714.47 1182.02,715.54 1188.07,716.61 1194.11,717.67 1200.15,718.72 1206.19,719.77 1212.23,720.82 1218.27,721.85 1224.31,722.89 1230.35,723.91 1236.39,724.93 1242.44,725.95 1248.48,726.96 1254.52,727.96 1260.56,728.96 1266.60,729.96 1272.64,730.95 1278.68,731.93 1284.72,732.91 1290.76,733.88 1296.81,734.85 1302.85,735.82 1308.89,736.78 1314.93,737.73 1320.97,738.68 1327.01,739.62 1333.05,740.56 1339.09,741.50 1345.13,742.43 1351.18,743.36 1357.22,744.28 1363.26,745.20 1369.30,746.11 1375.34,747.02 1381.38,747.92 1387.42,748.82 1393.46,749.72 1399.50,750.61 1405.55,751.50 1411.59,752.38 1417.63,753.26 1423.67,754.14 1429.71,755.01 1435.75,755.87 1441.79,756.74 1447.83,757.60 1453.87,758.45 1459.92,759.31 1465.96,760.15 1472.00,761.00 1478.04,761.84 1484.08,762.67 1490.12,763.51 1496.16,764.34 1502.20,765.16 1508.24,765.99 1514.29,766.80 1520.33,767.62 1526.37,768.43 1532.41,769.24 1538.45,770.05 1544.49,770.85 1550.53,771.65 1556.57,772.44 1562.62,773.23 1568.66,774.02 1574.70,774.81 1580.74,775.59 1586.78,776.37 1592.82,777.14 1598.86,777.92 1604.90,778.68 1610.94,779.45 1616.99,780.21 1623.03,780.97 1629.07,781.73 1635.11,782.49 1641.15,783.24 1647.19,783.99 1653.23,784.73 1659.27,785.47 1665.31,786.21 1671.36,786.95 1677.40,787.68 1683.44,788.41 1689.48,789.14 1695.52,789.87 1701.56,790.59 1707.60,791.31 1713.64,792.03 1719.68,792.74 1725.73,793.45 1731.77,794.16 1737.81,794.87 1743.85,795.57 1749.89,796.28 1755.93,796.98 1761.97,797.67 1768.01,798.37 1774.05,799.06 1780.10,799.75 1786.14,800.43 1792.18,801.12 1798.22,801.80 1804.26,802.48 1810.30,803.15 1816.34,803.83 1822.38,804.50 1828.42,805.17 1834.47,805.84 1840.51,806.50 1846.55,807.16 1852.59,807.82 1858.63,808.48 1864.67,809.14 1870.71,809.79 1876.75,810.44 1882.79,811.09 1888.84,811.74 1894.88,812.38 1900.92,813.02 1906.96,813.67 1913.00,814.30" stroke="#f0f" stroke-width="5" stroke-dasharray="27.3 5.9 5.05 4.8" stroke-dashoffset="1.6"/>
<polyline points="267.65,541.64 267.72,542.77 267.80,543.91 267.88,545.04 267.96,546.18 268.05,547.33 268.14,548.47 268.24,549.62 268.34,550.76 268.45,551.92 268.56,553.07 268.67,554.23 268.79,555.39 268.92,556.55 269.05,557.71 269.18,558.88 269.33,560.05 269.48,561.22 269.63,562.39 269.80,563.57 269.97,564.74 270.15,565.93 270.33,567.11 270.53,568.30 270.73,569.48 270.94,570.67 271.16,571.87 271.40,573.06 271.64,574.26 271.89,575.46 272.16,576.67 272.43,577.87 272.72,579.08 273.03,580.29 273.34,581.50 273.67,582.72 274.02,583.94 274.38,585.16 274.75,586.38 275.15,587.61 275.56,588.83 275.99,590.06 276.43,591.30 276.90,592.53 277.39,593.77 277.90,595.01 278.44,596.25 279.00,597.50 279.58,598.75 280.19,600.00 280.83,601.25 281.50,602.51 282.19,603.76 282.92,605.02 283.68,606.29 284.48,607.55 285.31,608.82 286.17,610.09 287.08,611.36 288.03,612.64 289.02,613.91 290.05,615.19 291.13,616.48 292.26,617.76 293.44,619.05 294.68,620.34 295.96,621.63 297.31,622.93 298.72,624.22 300.19,625.52 301.72,626.83 303.33,628.13 305.01,629.44 306.76,630.75 308.59,632.06 310.51,633.38 312.50,634.69 314.59,636.01 316.78,637.33 319.06,638.66 321.44,639.99 323.94,641.32 326.54,642.65 329.26,643.98 332.10,645.32 335.07,646.66 338.18,648.00 341.42,649.34 344.81,650.69 348.35,652.04 354.39,654.22 360.43,656.26 366.47,658.18 372.51,659.99 378.56,661.70 384.60,663.33 390.64,664.88 396.68,666.36 402.72,667.78 408.76,669.13 414.80,670.44 420.84,671.69 426.88,672.90 432.93,674.06 438.97,675.18 445.01,676.27 451.05,677.32 457.09,678.34 463.13,679.33 469.17,680.30 475.21,681.23 481.25,682.14 487.30,683.02 493.34,683.88 499.38,684.72 505.42,685.54 511.46,686.34 517.50,687.12 523.54,687.88 529.58,688.63 535.62,689.36 541.67,690.07 547.71,690.77 553.75,691.46 559.79,692.13 565.83,692.78 571.87,693.43 577.91,694.06 583.95,694.68 589.99,695.29 596.04,695.89 602.08,696.48 608.12,697.06 614.16,697.63 620.20,698.19 626.24,698.74 632.28,699.28 638.32,699.81 644.36,700.34 650.41,700.86 656.45,701.37 662.49,701.87 668.53,702.36 674.57,702.85 680.61,703.33 686.65,703.80 692.69,704.27 698.73,704.73 704.78,705.18 710.82,705.63 716.86,706.08 722.90,706.51 728.94,706.94 734.98,707.37 741.02,707.79 747.06,708.21 753.11,708.62 759.15,709.02 765.19,709.43 771.23,709.82 777.27,710.21 783.31,710.60 789.35,710.98 795.39,711.36 801.43,711.74 807.48,712.11 813.52,712.48 819.56,712.84 825.60,713.20 831.64,713.55 837.68,713.90 843.72,714.25 849.76,714.60 855.80,714.94 861.85,715.28 867.89,715.61 873.93,715.94 879.97,716.27 886.01,716.60 892.05,716.92 898.09,717.24 904.13,717.55 910.17,717.87 916.22,718.18 922.26,718.48 928.30,718.79 934.34,719.09 940.38,719.39 946.42,719.69 952.46,719.98 958.50,720.28 964.54,720.57 970.59,720.85 976.63,721.14 982.67,721.42 988.71,721.70 994.75,721.98 1000.79,722.25 1006.83,722.53 1012.87,722.80 1018.91,723.07 1024.96,723.34 1031.00,723.60 1037.04,723.86 1043.08,724.13 1049.12,724.39 1055.16,724.64 1061.20,724.90 1067.24,725.15 1073.28,725.40 1079.33,725.65 1085.37,725.90 1091.41,726.15 1097.45,726.39 1103.49,726.64 1109.53,726.88 1115.57,727.12 1121.61,727.35 1127.65,727.59 1133.70,727.83 1139.74,728.06 1145.78,728.29 1151.82,728.52 1157.86,728.75 1163.90,728.98 1169.94,729.20 1175.98,729.43 1182.02,729.65 1188.07,729.87 1194.11,730.09 1200.15,730.31 1206.19,730.53 1212.23,730.74 1218.27,730.96 1224.31,731.17 1230.35,731.38 1236.39,731.59 1242.44,731.80 1248.48,732.01 1254.52,732.22 1260.56,732.42 1266.60,732.63 1272.64,732.83 1278.68,733.03 1284.72,733.23 1290.76,733.43 1296.81,733.63 1302.85,733.83 1308.89,734.03 1314.93,734.22 1320.97,734.42 1327.01,734.61 1333.05,734.80 1339.09,734.99 1345.13,735.18 1351.18,735.37 1357.22,735.56 1363.26,735.75 1369.30,735.93 1375.34,736.12 1381.38,736.30 1387.42,736.49 1393.46,736.67 1399.50,736.85 1405.55,737.03 1411.59,737.21 1417.63,737.39 1423.67,737.56 1429.71,737.74 1435.75,737.92 1441.79,738.09 1447.83,738.27 1453.87,738.44 1459.92,738.61 1465.96,738.78 1472.00,738.95 1478.04,739.12 1484.08,739.29 1490.12,739.46 1496.16,739.63 1502.20,739.80 1508.24,739.96 1514.29,740.13 1520.33,740.29 1526.37,740.45 1532.41,740.62 1538.45,740.78 1544.49,740.94 1550.53,741.10 1556.57,741.26 1562.62,741.42 1568.66,741.58 1574.70,741.74 1580.74,741.89 1586.78,742.05 1592.82,742.21 1598.86,742.36 1604.90,742.51 1610.94,742.67 1616.99,742.82 1623.03,742.97 1629.07,743.12 1635.11,743.28 1641.15,743.43 1647.19,743.58 1653.23,743.72 1659.27,743.87 1665.31,744.02 1671.36,744.17 1677.40,744.31 1683.44,744.46 1689.48,744.61 1695.52,744.75 1701.56,744.90 1707.60,745.04 1713.64,745.18 1719.68,745.32 1725.73,745.47 1731.77,745.61 1737.81,745.75 1743.85,745.89 1749.89,746.03 1755.93,746.17 1761.97,746.31 1768.01,746.44 1774.05,746.58 1780.10,746.72 1786.14,746.85 1792.18,746.99 1798.22,747.13 1804.26,747.26 1810.30,747.39 1816.34,747.53 1822.38,747.66 1828.42,747.79 1834.47,747.93 1840.51,748.06 1846.55,748.19 1852.59,748.32 1858.63,748.45 1864.67,748.58 1870.71,748.71 1876.75,748.84 1882.79,748.97 1888.84,749.10 1894.88,749.22 1900.92,749.35 1906.96,749.48 1913.00,749.60" stroke="#000" stroke-width="6.7" stroke-linecap="square"/>
<polyline points="267.65,541.64 267.72,542.77 267.80,543.91 267.88,545.04 267.96,546.18 268.05,547.33 268.14,548.47 268.24,549.62 268.34,550.76 268.45,551.92 268.56,553.07 268.67,554.23 268.79,555.39 268.92,556.55 269.05,557.71 269.18,558.88 269.33,560.05 269.48,561.22 269.63,562.39 269.80,563.57 269.97,564.74 270.15,565.93 270.33,567.11 270.53,568.30 270.73,569.48 270.94,570.67 271.16,571.87 271.40,573.06 271.64,574.26 271.89,575.46 272.16,576.67 272.43,577.87 272.72,579.08 273.03,580.29 273.34,581.50 273.67,582.72 274.02,583.94 274.38,585.16 274.75,586.38 275.15,587.61 275.56,588.83 275.99,590.06 276.43,591.30 276.90,592.53 277.39,593.77 277.90,595.01 278.44,596.25 279.00,597.50 279.58,598.75 280.19,600.00 280.83,601.25 281.50,602.51 282.19,603.76 282.92,605.02 283.68,606.29 284.48,607.55 285.31,608.82 286.17,610.09 287.08,611.36 288.03,612.64 289.02,613.91 290.05,615.19 291.13,616.48 292.26,617.76 293.44,619.05 294.68,620.34 295.96,621.63 297.31,622.93 298.72,624.22 300.19,625.52 301.72,626.83 303.33,628.13 305.01,629.44 306.76,630.75 308.59,632.06 310.51,633.38 312.50,634.69 314.59,636.01 316.78,637.33 319.06,638.66 321.44,639.99 323.94,641.32 326.54,642.65 329.26,643.98 332.10,645.32 335.07,646.66 338.18,648.00 341.42,649.34 344.81,650.69 348.35,652.04 354.39,654.22 360.43,656.26 366.47,658.18 372.51,659.99 378.56,661.70 384.60,663.33 390.64,664.88 396.68,666.36 402.72,667.78 408.76,669.13 414.80,670.44 420.84,671.69 426.88,672.90 432.93,674.06 438.97,675.18 445.01,676.27 451.05,677.32 457.09,678.34 463.13,679.33 469.17,680.30 475.21,681.23 481.25,682.14 487.30,683.02 493.34,683.88 499.38,684.72 505.42,685.54 511.46,686.34 517.50,687.12 523.54,687.88 529.58,688.63 535.62,689.36 541.67,690.07 547.71,690.77 553.75,691.46 559.79,692.13 565.83,692.78 571.87,693.43 577.91,694.06 583.95,694.68 589.99,695.29 596.04,695.89 602.08,696.48 608.12,697.06 614.16,697.63 620.20,698.19 626.24,698.74 632.28,699.28 638.32,699.81 644.36,700.34 650.41,700.86 656.45,701.37 662.49,701.87 668.53,702.36 674.57,702.85 680.61,703.33 686.65,703.80 692.69,704.27 698.73,704.73 704.78,705.18 710.82,705.63 716.86,706.08 722.90,706.51 728.94,706.94 734.98,707.37 741.02,707.79 747.06,708.21 753.11,708.62 759.15,709.02 765.19,709.43 771.23,709.82 777.27,710.21 783.31,710.60 789.35,710.98 795.39,711.36 801.43,711.74 807.48,712.11 813.52,712.48 819.56,712.84 825.60,713.20 831.64,713.55 837.68,713.90 843.72,714.25 849.76,714.60 855.80,714.94 861.85,715.28 867.89,715.61 873.93,715.94 879.97,716.27 886.01,716.60 892.05,716.92 898.09,717.24 904.13,717.55 910.17,717.87 916.22,718.18 922.26,718.48 928.30,718.79 934.34,719.09 940.38,719.39 946.42,719.69 952.46,719.98 958.50,720.28 964.54,720.57 970.59,720.85 976.63,721.14 982.67,721.42 988.71,721.70 994.75,721.98 1000.79,722.25 1006.83,722.53 1012.87,722.80 1018.91,723.07 1024.96,723.34 1031.00,723.60 1037.04,723.86 1043.08,724.13 1049.12,724.39 1055.16,724.64 1061.20,724.90 1067.24,725.15 1073.28,725.40 1079.33,725.65 1085.37,725.90 1091.41,726.15 1097.45,726.39 1103.49,726.64 1109.53,726.88 1115.57,727.12 1121.61,727.35 1127.65,727.59 1133.70,727.83 1139.74,728.06 1145.78,728.29 1151.82,728.52 1157.86,728.75 1163.90,728.98 1169.94,729.20 1175.98,729.43 1182.02,729.65 1188.07,729.87 1194.11,730.09 1200.15,730.31 1206.19,730.53 1212.23,730.74 1218.27,730.96 1224.31,731.17 1230.35,731.38 1236.39,731.59 1242.44,731.80 1248.48,732.01 1254.52,732.22 1260.56,732.42 1266.60,732.63 1272.64,732.83 1278.68,733.03 1284.72,733.23 1290.76,733.43 1296.81,733.63 1302.85,733.83 1308.89,734.03 1314.93,734.22 1320.97,734.42 1327.01,734.61 1333.05,734.80 1339.09,734.99 1345.13,735.18 1351.18,735.37 1357.22,735.56 1363.26,735.75 1369.30,735.93 1375.34,736.12 1381.38,736.30 1387.42,736.49 1393.46,736.67 1399.50,736.85 1405.55,737.03 1411.59,737.21 1417.63,737.39 1423.67,737.56 1429.71,737.74 1435.75,737.92 1441.79,738.09 1447.83,738.27 1453.87,738.44 1459.92,738.61 1465.96,738.78 1472.00,738.95 1478.04,739.12 1484.08,739.29 1490.12,739.46 1496.16,739.63 1502.20,739.80 1508.24,739.96 1514.29,740.13 1520.33,740.29 1526.37,740.45 1532.41,740.62 1538.45,740.78 1544.49,740.94 1550.53,741.10 1556.57,741.26 1562.62,741.42 1568.66,741.58 1574.70,741.74 1580.74,741.89 1586.78,742.05 1592.82,742.21 1598.86,742.36 1604.90,742.51 1610.94,742.67 1616.99,742.82 1623.03,742.97 1629.07,743.12 1635.11,743.28 1641.15,743.43 1647.19,743.58 1653.23,743.72 1659.27,743.87 1665.31,744.02 1671.36,744.17 1677.40,744.31 1683.44,744.46 1689.48,744.61 1695.52,744.75 1701.56,744.90 1707.60,745.04 1713.64,745.18 1719.68,745.32 1725.73,745.47 1731.77,745.61 1737.81,745.75 1743.85,745.89 1749.89,746.03 1755.93,746.17 1761.97,746.31 1768.01,746.44 1774.05,746.58 1780.10,746.72 1786.14,746.85 1792.18,746.99 1798.22,747.13 1804.26,747.26 1810.30,747.39 1816.34,747.53 1822.38,747.66 1828.42,747.79 1834.47,747.93 1840.51,748.06 1846.55,748.19 1852.59,748.32 1858.63,748.45 1864.67,748.58 1870.71,748.71 1876.75,748.84 1882.79,748.97 1888.84,749.10 1894.88,749.22 1900.92,749.35 1906.96,749.48 1913.00,749.60" stroke="#f0f" stroke-width="5" stroke-dasharray="27.3 5.9 5.05 4.8" stroke-dashoffset="1.6"/>
<polyline points="267.65,1044.46 267.72,1042.14 267.80,1039.83 267.88,1037.52 267.96,1035.22 268.05,1032.91 268.14,1030.60 268.24,1028.29 268.34,1025.99 268.45,1023.69 268.56,1021.38 268.67,1019.08 268.79,1016.78 268.92,1014.48 269.05,1012.18 269.18,1009.89 269.33,1007.59 269.48,1005.30 269.63,1003.01 269.80,1000.72 269.97,998.43 270.15,996.14 270.33,993.86 270.53,991.57 270.73,989.29 270.94,987.01 271.16,984.73 271.40,982.45 271.64,980.18 271.89,977.90 272.16,975.63 272.43,973.36 272.72,971.10 273.03,968.83 273.34,966.57 273.67,964.30 274.02,962.05 274.38,959.79 274.75,957.53 275.15,955.28 275.56,953.03 275.99,950.78 276.43,948.54 276.90,946.29 277.39,944.05 277.90,941.81 278.44,939.57 279.00,937.34 279.58,935.11 280.19,932.88 280.83,930.65 281.50,928.43 282.19,926.21 282.92,923.99 283.68,921.77 284.48,919.56 285.31,917.35 286.17,915.14 287.08,912.94 288.03,910.73 289.02,908.53 290.05,906.34 291.13,904.14 292.26,901.95 293.44,899.76 294.68,897.58 295.96,895.40 297.31,893.22 298.72,891.04 300.19,888.87 301.72,886.70 303.33,884.53 305.01,882.36 306.76,880.20 308.59,878.05 310.51,875.89 312.50,873.74 314.59,871.59 316.78,869.45 319.06,867.30 321.44,865.17 323.94,863.03 326.54,860.90 329.26,858.77 332.10,856.64 335.07,854.52 338.18,852.40 341.42,850.29 344.81,848.18 348.35,846.07 354.39,842.68 360.43,839.52 366.47,836.57 372.51,833.80 378.56,831.18 384.60,828.71 390.64,826.36 396.68,824.13 402.72,822.01 408.76,819.98 414.80,818.03 420.84,816.17 426.88,814.38 432.93,812.66 438.97,811.01 445.01,809.41 451.05,807.87 457.09,806.38 463.13,804.94 469.17,803.54 475.21,802.19 481.25,800.87 487.30,799.60 493.34,798.36 499.38,797.15 505.42,795.98 511.46,794.83 517.50,793.72 523.54,792.63 529.58,791.57 535.62,790.54 541.67,789.52 547.71,788.53 553.75,787.57 559.79,786.62 565.83,785.70 571.87,784.79 577.91,783.90 583.95,783.03 589.99,782.18 596.04,781.34 602.08,780.52 608.12,779.71 614.16,778.92 620.20,778.15 626.24,777.38 632.28,776.63 638.32,775.90 644.36,775.17 650.41,774.46 656.45,773.76 662.49,773.07 668.53,772.39 674.57,771.72 680.61,771.06 686.65,770.42 692.69,769.78 698.73,769.15 704.78,768.53 710.82,767.92 716.86,767.32 722.90,766.72 728.94,766.14 734.98,765.56 741.02,764.99 747.06,764.43 753.11,763.87 759.15,763.32 765.19,762.78 771.23,762.25 777.27,761.72 783.31,761.20 789.35,760.68 795.39,760.17 801.43,759.67 807.48,759.18 813.52,758.68 819.56,758.20 825.60,757.72 831.64,757.24 837.68,756.78 843.72,756.31 849.76,755.85 855.80,755.40 861.85,754.95 867.89,754.50 873.93,754.07 879.97,753.63 886.01,753.20 892.05,752.77 898.09,752.35 904.13,751.93 910.17,751.52 916.22,751.11 922.26,750.70 928.30,750.30 934.34,749.90 940.38,749.51 946.42,749.12 952.46,748.73 958.50,748.35 964.54,747.97 970.59,747.59 976.63,747.22 982.67,746.85 988.71,746.48 994.75,746.12 1000.79,745.76 1006.83,745.40 1012.87,745.05 1018.91,744.70 1024.96,744.35 1031.00,744.00 1037.04,743.66 1043.08,743.32 1049.12,742.98 1055.16,742.65 1061.20,742.32 1067.24,741.99 1073.28,741.66 1079.33,741.34 1085.37,741.02 1091.41,740.70 1097.45,740.38 1103.49,740.07 1109.53,739.76 1115.57,739.45 1121.61,739.14 1127.65,738.84 1133.70,738.53 1139.74,738.23 1145.78,737.94 1151.82,737.64 1157.86,737.35 1163.90,737.05 1169.94,736.77 1175.98,736.48 1182.02,736.19 1188.07,735.91 1194.11,735.63 1200.15,735.35 1206.19,735.07 1212.23,734.79 1218.27,734.52 1224.31,734.25 1230.35,733.98 1236.39,733.71 1242.44,733.44 1248.48,733.17 1254.52,732.91 1260.56,732.65 1266.60,732.39 1272.64,732.13 1278.68,731.87 1284.72,731.62 1290.76,731.36 1296.81,731.11 1302.85,730.86 1308.89,730.61 1314.93,730.36 1320.97,730.12 1327.01,729.87 1333.05,729.63 1339.09,729.39 1345.13,729.15 1351.18,728.91 1357.22,728.67 1363.26,728.43 1369.30,728.20 1375.34,727.97 1381.38,727.73 1387.42,727.50 1393.46,727.27 1399.50,727.05 1405.55,726.82 1411.59,726.59 1417.63,726.37 1423.67,726.14 1429.71,725.92 1435.75,725.70 1441.79,725.48 1447.83,725.26 1453.87,725.05 1459.92,724.83 1465.96,724.62 1472.00,724.40 1478.04,724.19 1484.08,723.98 1490.12,723.77 1496.16,723.56 1502.20,723.35 1508.24,723.14 1514.29,722.94 1520.33,722.73 1526.37,722.53 1532.41,722.32 1538.45,722.12 1544.49,721.92 1550.53,721.72 1556.57,721.52 1562.62,721.32 1568.66,721.12 1574.70,720.93 1580.74,720.73 1586.78,720.54 1592.82,720.35 1598.86,720.15 1604.90,719.96 1610.94,719.77 1616.99,719.58 1623.03,719.39 1629.07,719.20 1635.11,719.02 1641.15,718.83 1647.19,718.65 1653.23,718.46 1659.27,718.28 1665.31,718.09 1671.36,717.91 1677.40,717.73 1683.44,717.55 1689.48,717.37 1695.52,717.19 1701.56,717.01 1707.60,716.84 1713.64,716.66 1719.68,716.49 1725.73,716.31 1731.77,716.14 1737.81,715.96 1743.85,715.79 1749.89,715.62 1755.93,715.45 1761.97,715.28 1768.01,715.11 1774.05,714.94 1780.10,714.77 1786.14,714.60 1792.18,714.43 1798.22,714.27 1804.26,714.10 1810.30,713.94 1816.34,713.77 1822.38,713.61 1828.42,713.45 1834.47,713.29 1840.51,713.12 1846.55,712.96 1852.59,712.80 1858.63,712.64 1864.67,712.48 1870.71,712.33 1876.75,712.17 1882.79,712.01 1888.84,711.86 1894.88,711.70 1900.92,711.54 1906.96,711.39 1913.00,711.24" stroke="#000" stroke-width="6.7" stroke-linecap="square"/>
<polyline points="267.65,1044.46 267.72,1042.14 267.80,1039.83 267.88,1037.52 267.96,1035.22 268.05,1032.91 268.14,1030.60 268.24,1028.29 268.34,1025.99 268.45,1023.69 268.56,1021.38 268.67,1019.08 268.79,1016.78 268.92,1014.48 269.05,1012.18 269.18,1009.89 269.33,1007.59 269.48,1005.30 269.63,1003.01 269.80,1000.72 269.97,998.43 270.15,996.14 270.33,993.86 270.53,991.57 270.73,989.29 270.94,987.01 271.16,984.73 271.40,982.45 271.64,980.18 271.89,977.90 272.16,975.63 272.43,973.36 272.72,971.10 273.03,968.83 273.34,966.57 273.67,964.30 274.02,962.05 274.38,959.79 274.75,957.53 275.15,955.28 275.56,953.03 275.99,950.78 276.43,948.54 276.90,946.29 277.39,944.05 277.90,941.81 278.44,939.57 279.00,937.34 279.58,935.11 280.19,932.88 280.83,930.65 281.50,928.43 282.19,926.21 282.92,923.99 283.68,921.77 284.48,919.56 285.31,917.35 286.17,915.14 287.08,912.94 288.03,910.73 289.02,908.53 290.05,906.34 291.13,904.14 292.26,901.95 293.44,899.76 294.68,897.58 295.96,895.40 297.31,893.22 298.72,891.04 300.19,888.87 301.72,886.70 303.33,884.53 305.01,882.36 306.76,880.20 308.59,878.05 310.51,875.89 312.50,873.74 314.59,871.59 316.78,869.45 319.06,867.30 321.44,865.17 323.94,863.03 326.54,860.90 329.26,858.77 332.10,856.64 335.07,854.52 338.18,852.40 341.42,850.29 344.81,848.18 348.35,846.07 354.39,842.68 360.43,839.52 366.47,836.57 372.51,833.80 378.56,831.18 384.60,828.71 390.64,826.36 396.68,824.13 402.72,822.01 408.76,819.98 414.80,818.03 420.84,816.17 426.88,814.38 432.93,812.66 438.97,811.01 445.01,809.41 451.05,807.87 457.09,806.38 463.13,804.94 469.17,803.54 475.21,802.19 481.25,800.87 487.30,799.60 493.34,798.36 499.38,797.15 505.42,795.98 511.46,794.83 517.50,793.72 523.54,792.63 529.58,791.57 535.62,790.54 541.67,789.52 547.71,788.53 553.75,787.57 559.79,786.62 565.83,785.70 571.87,784.79 577.91,783.90 583.95,783.03 589.99,782.18 596.04,781.34 602.08,780.52 608.12,779.71 614.16,778.92 620.20,778.15 626.24,777.38 632.28,776.63 638.32,775.90 644.36,775.17 650.41,774.46 656.45,773.76 662.49,773.07 668.53,772.39 674.57,771.72 680.61,771.06 686.65,770.42 692.69,769.78 698.73,769.15 704.78,768.53 710.82,767.92 716.86,767.32 722.90,766.72 728.94,766.14 734.98,765.56 741.02,764.99 747.06,764.43 753.11,763.87 759.15,763.32 765.19,762.78 771.23,762.25 777.27,761.72 783.31,761.20 789.35,760.68 795.39,760.17 801.43,759.67 807.48,759.18 813.52,758.68 819.56,758.20 825.60,757.72 831.64,757.24 837.68,756.78 843.72,756.31 849.76,755.85 855.80,755.40 861.85,754.95 867.89,754.50 873.93,754.07 879.97,753.63 886.01,753.20 892.05,752.77 898.09,752.35 904.13,751.93 910.17,751.52 916.22,751.11 922.26,750.70 928.30,750.30 934.34,749.90 940.38,749.51 946.42,749.12 952.46,748.73 958.50,748.35 964.54,747.97 970.59,747.59 976.63,747.22 982.67,746.85 988.71,746.48 994.75,746.12 1000.79,745.76 1006.83,745.40 1012.87,745.05 1018.91,744.70 1024.96,744.35 1031.00,744.00 1037.04,743.66 1043.08,743.32 1049.12,742.98 1055.16,742.65 1061.20,742.32 1067.24,741.99 1073.28,741.66 1079.33,741.34 1085.37,741.02 1091.41,740.70 1097.45,740.38 1103.49,740.07 1109.53,739.76 1115.57,739.45 1121.61,739.14 1127.65,738.84 1133.70,738.53 1139.74,738.23 1145.78,737.94 1151.82,737.64 1157.86,737.35 1163.90,737.05 1169.94,736.77 1175.98,736.48 1182.02,736.19 1188.07,735.91 1194.11,735.63 1200.15,735.35 1206.19,735.07 1212.23,734.79 1218.27,734.52 1224.31,734.25 1230.35,733.98 1236.39,733.71 1242.44,733.44 1248.48,733.17 1254.52,732.91 1260.56,732.65 1266.60,732.39 1272.64,732.13 1278.68,731.87 1284.72,731.62 1290.76,731.36 1296.81,731.11 1302.85,730.86 1308.89,730.61 1314.93,730.36 1320.97,730.12 1327.01,729.87 1333.05,729.63 1339.09,729.39 1345.13,729.15 1351.18,728.91 1357.22,728.67 1363.26,728.43 1369.30,728.20 1375.34,727.97 1381.38,727.73 1387.42,727.50 1393.46,727.27 1399.50,727.05 1405.55,726.82 1411.59,726.59 1417.63,726.37 1423.67,726.14 1429.71,725.92 1435.75,725.70 1441.79,725.48 1447.83,725.26 1453.87,725.05 1459.92,724.83 1465.96,724.62 1472.00,724.40 1478.04,724.19 1484.08,723.98 1490.12,723.77 1496.16,723.56 1502.20,723.35 1508.24,723.14 1514.29,722.94 1520.33,722.73 1526.37,722.53 1532.41,722.32 1538.45,722.12 1544.49,721.92 1550.53,721.72 1556.57,721.52 1562.62,721.32 1568.66,721.12 1574.70,720.93 1580.74,720.73 1586.78,720.54 1592.82,720.35 1598.86,720.15 1604.90,719.96 1610.94,719.77 1616.99,719.58 1623.03,719.39 1629.07,719.20 1635.11,719.02 1641.15,718.83 1647.19,718.65 1653.23,718.46 1659.27,718.28 1665.31,718.09 1671.36,717.91 1677.40,717.73 1683.44,717.55 1689.48,717.37 1695.52,717.19 1701.56,717.01 1707.60,716.84 1713.64,716.66 1719.68,716.49 1725.73,716.31 1731.77,716.14 1737.81,715.96 1743.85,715.79 1749.89,715.62 1755.93,715.45 1761.97,715.28 1768.01,715.11 1774.05,714.94 1780.10,714.77 1786.14,714.60 1792.18,714.43 1798.22,714.27 1804.26,714.10 1810.30,713.94 1816.34,713.77 1822.38,713.61 1828.42,713.45 1834.47,713.29 1840.51,713.12 1846.55,712.96 1852.59,712.80 1858.63,712.64 1864.67,712.48 1870.71,712.33 1876.75,712.17 1882.79,712.01 1888.84,711.86 1894.88,711.70 1900.92,711.54 1906.96,711.39 1913.00,711.24" stroke="#f0f" stroke-width="5" stroke-dasharray="27.3 5.9 5.05 4.8" stroke-dashoffset="1.6"/>
<polyline points="267.65,1579.31 267.72,1577.77 267.80,1576.17 267.88,1574.49 267.96,1572.75 268.05,1570.93 268.14,1569.04 268.24,1567.07 268.34,1565.02 268.45,1562.89 268.56,1560.68 268.67,1558.38 268.79,1556.00 268.92,1553.52 269.05,1550.95 269.18,1548.29 269.33,1545.54 269.48,1542.68 269.63,1539.73 269.80,1536.68 269.97,1533.53 270.15,1530.28 270.33,1526.92 270.53,1523.46 270.73,1519.89 270.94,1516.22 271.16,1512.44 271.40,1508.55 271.64,1504.55 271.89,1500.45 272.16,1496.24 272.43,1491.91 272.72,1487.49 273.03,1482.95 273.34,1478.31 273.67,1473.56 274.02,1468.70 274.38,1463.75 274.75,1458.68 275.15,1453.52 275.56,1448.25 275.99,1442.88 276.43,1437.42 276.90,1431.86 277.39,1426.20 277.90,1420.46 278.44,1414.62 279.00,1408.69 279.58,1402.67 280.19,1396.57 280.83,1390.39 281.50,1384.13 282.19,1377.79 282.92,1371.38 283.68,1364.89 284.48,1358.34 285.31,1351.71 286.17,1345.02 287.08,1338.27 288.03,1331.46 289.02,1324.59 290.05,1317.67 291.13,1310.70 292.26,1303.67 293.44,1296.60 294.68,1289.49 295.96,1282.33 297.31,1275.14 298.72,1267.90 300.19,1260.64 301.72,1253.34 303.33,1246.01 305.01,1238.66 306.76,1231.28 308.59,1223.88 310.51,1216.46 312.50,1209.02 314.59,1201.57 316.78,1194.10 319.06,1186.62 321.44,1179.13 323.94,1171.64 326.54,1164.14 329.26,1156.63 332.10,1149.12 335.07,1141.62 338.18,1134.11 341.42,1126.61 344.81,1119.12 348.35,1111.63 354.39,1099.59 360.43,1088.36 366.47,1077.87 372.51,1068.01 378.56,1058.72 384.60,1049.94 390.64,1041.63 396.68,1033.73 402.72,1026.22 408.76,1019.05 414.80,1012.21 420.84,1005.65 426.88,999.37 432.93,993.33 438.97,987.53 445.01,981.95 451.05,976.57 457.09,971.38 463.13,966.36 469.17,961.51 475.21,956.82 481.25,952.27 487.30,947.87 493.34,943.59 499.38,939.44 505.42,935.40 511.46,931.48 517.50,927.66 523.54,923.94 529.58,920.32 535.62,916.79 541.67,913.35 547.71,909.99 553.75,906.71 559.79,903.50 565.83,900.37 571.87,897.31 577.91,894.32 583.95,891.39 589.99,888.52 596.04,885.72 602.08,882.97 608.12,880.27 614.16,877.63 620.20,875.04 626.24,872.50 632.28,870.00 638.32,867.56 644.36,865.15 650.41,862.79 656.45,860.48 662.49,858.20 668.53,855.96 674.57,853.76 680.61,851.59 686.65,849.47 692.69,847.37 698.73,845.31 704.78,843.28 710.82,841.29 716.86,839.32 722.90,837.38 728.94,835.48 734.98,833.60 741.02,831.75 747.06,829.92 753.11,828.12 759.15,826.35 765.19,824.60 771.23,822.88 777.27,821.18 783.31,819.50 789.35,817.84 795.39,816.21 801.43,814.59 807.48,813.00 813.52,811.43 819.56,809.88 825.60,808.34 831.64,806.83 837.68,805.33 843.72,803.86 849.76,802.40 855.80,800.95 861.85,799.53 867.89,798.12 873.93,796.73 879.97,795.35 886.01,793.99 892.05,792.64 898.09,791.31 904.13,789.99 910.17,788.69 916.22,787.40 922.26,786.13 928.30,784.86 934.34,783.62 940.38,782.38 946.42,781.16 952.46,779.95 958.50,778.75 964.54,777.57 970.59,776.39 976.63,775.23 982.67,774.08 988.71,772.94 994.75,771.81 1000.79,770.69 1006.83,769.58 1012.87,768.49 1018.91,767.40 1024.96,766.32 1031.00,765.26 1037.04,764.20 1043.08,763.15 1049.12,762.11 1055.16,761.08 1061.20,760.06 1067.24,759.05 1073.28,758.05 1079.33,757.06 1085.37,756.07 1091.41,755.10 1097.45,754.13 1103.49,753.17 1109.53,752.22 1115.57,751.27 1121.61,750.33 1127.65,749.41 1133.70,748.48 1139.74,747.57 1145.78,746.66 1151.82,745.76 1157.86,744.87 1163.90,743.99 1169.94,743.11 1175.98,742.24 1182.02,741.37 1188.07,740.51 1194.11,739.66 1200.15,738.82 1206.19,737.98 1212.23,737.15 1218.27,736.32 1224.31,735.50 1230.35,734.68 1236.39,733.88 1242.44,733.07 1248.48,732.28 1254.52,731.49 1260.56,730.70 1266.60,729.92 1272.64,729.15 1278.68,728.38 1284.72,727.61 1290.76,726.85 1296.81,726.10 1302.85,725.35 1308.89,724.61 1314.93,723.87 1320.97,723.14 1327.01,722.41 1333.05,721.69 1339.09,720.97 1345.13,720.26 1351.18,719.55 1357.22,718.84 1363.26,718.14 1369.30,717.45 1375.34,716.75 1381.38,716.07 1387.42,715.39 1393.46,714.71 1399.50,714.03 1405.55,713.36 1411.59,712.70 1417.63,712.04 1423.67,711.38 1429.71,710.73 1435.75,710.08 1441.79,709.43 1447.83,708.79 1453.87,708.15 1459.92,707.52 1465.96,706.89 1472.00,706.26 1478.04,705.64 1484.08,705.02 1490.12,704.40 1496.16,703.79 1502.20,703.18 1508.24,702.58 1514.29,701.97 1520.33,701.38 1526.37,700.78 1532.41,700.19 1538.45,699.60 1544.49,699.02 1550.53,698.43 1556.57,697.86 1562.62,697.28 1568.66,696.71 1574.70,696.14 1580.74,695.57 1586.78,695.01 1592.82,694.45 1598.86,693.89 1604.90,693.34 1610.94,692.79 1616.99,692.24 1623.03,691.69 1629.07,691.15 1635.11,690.61 1641.15,690.07 1647.19,689.54 1653.23,689.01 1659.27,688.48 1665.31,687.95 1671.36,687.43 1677.40,686.91 1683.44,686.39 1689.48,685.88 1695.52,685.36 1701.56,684.85 1707.60,684.34 1713.64,683.84 1719.68,683.34 1725.73,682.84 1731.77,682.34 1737.81,681.84 1743.85,681.35 1749.89,680.86 1755.93,680.37 1761.97,679.88 1768.01,679.40 1774.05,678.92 1780.10,678.44 1786.14,677.96 1792.18,677.49 1798.22,677.01 1804.26,676.54 1810.30,676.07 1816.34,675.61 1822.38,675.14 1828.42,674.68 1834.47,674.22 1840.51,673.76 1846.55,673.31 1852.59,672.86 1858.63,672.40 1864.67,671.95 1870.71,671.51 1876.75,671.06 1882.79,670.62 1888.84,670.18 1894.88,669.74 1900.92,669.30 1906.96,668.86 1913.00,668.43" stroke="#000" stroke-width="6.7" stroke-linecap="square"/>
<polyline points="267.65,1579.31 267.72,1577.77 267.80,1576.17 267.88,1574.49 267.96,1572.75 268.05,1570.93 268.14,1569.04 268.24,1567.07 268.34,1565.02 268.45,1562.89 268.56,1560.68 268.67,1558.38 268.79,1556.00 268.92,1553.52 269.05,1550.95 269.18,1548.29 269.33,1545.54 269.48,1542.68 269.63,1539.73 269.80,1536.68 269.97,1533.53 270.15,1530.28 270.33,1526.92 270.53,1523.46 270.73,1519.89 270.94,1516.22 271.16,1512.44 271.40,1508.55 271.64,1504.55 271.89,1500.45 272.16,1496.24 272.43,1491.91 272.72,1487.49 273.03,1482.95 273.34,1478.31 273.67,1473.56 274.02,1468.70 274.38,1463.75 274.75,1458.68 275.15,1453.52 275.56,1448.25 275.99,1442.88 276.43,1437.42 276.90,1431.86 277.39,1426.20 277.90,1420.46 278.44,1414.62 279.00,1408.69 279.58,1402.67 280.19,1396.57 280.83,1390.39 281.50,1384.13 282.19,1377.79 282.92,1371.38 283.68,1364.89 284.48,1358.34 285.31,1351.71 286.17,1345.02 287.08,1338.27 288.03,1331.46 289.02,1324.59 290.05,1317.67 291.13,1310.70 292.26,1303.67 293.44,1296.60 294.68,1289.49 295.96,1282.33 297.31,1275.14 298.72,1267.90 300.19,1260.64 301.72,1253.34 303.33,1246.01 305.01,1238.66 306.76,1231.28 308.59,1223.88 310.51,1216.46 312.50,1209.02 314.59,1201.57 316.78,1194.10 319.06,1186.62 321.44,1179.13 323.94,1171.64 326.54,1164.14 329.26,1156.63 332.10,1149.12 335.07,1141.62 338.18,1134.11 341.42,1126.61 344.81,1119.12 348.35,1111.63 354.39,1099.59 360.43,1088.36 366.47,1077.87 372.51,1068.01 378.56,1058.72 384.60,1049.94 390.64,1041.63 396.68,1033.73 402.72,1026.22 408.76,1019.05 414.80,1012.21 420.84,1005.65 426.88,999.37 432.93,993.33 438.97,987.53 445.01,981.95 451.05,976.57 457.09,971.38 463.13,966.36 469.17,961.51 475.21,956.82 481.25,952.27 487.30,947.87 493.34,943.59 499.38,939.44 505.42,935.40 511.46,931.48 517.50,927.66 523.54,923.94 529.58,920.32 535.62,916.79 541.67,913.35 547.71,909.99 553.75,906.71 559.79,903.50 565.83,900.37 571.87,897.31 577.91,894.32 583.95,891.39 589.99,888.52 596.04,885.72 602.08,882.97 608.12,880.27 614.16,877.63 620.20,875.04 626.24,872.50 632.28,870.00 638.32,867.56 644.36,865.15 650.41,862.79 656.45,860.48 662.49,858.20 668.53,855.96 674.57,853.76 680.61,851.59 686.65,849.47 692.69,847.37 698.73,845.31 704.78,843.28 710.82,841.29 716.86,839.32 722.90,837.38 728.94,835.48 734.98,833.60 741.02,831.75 747.06,829.92 753.11,828.12 759.15,826.35 765.19,824.60 771.23,822.88 777.27,821.18 783.31,819.50 789.35,817.84 795.39,816.21 801.43,814.59 807.48,813.00 813.52,811.43 819.56,809.88 825.60,808.34 831.64,806.83 837.68,805.33 843.72,803.86 849.76,802.40 855.80,800.95 861.85,799.53 867.89,798.12 873.93,796.73 879.97,795.35 886.01,793.99 892.05,792.64 898.09,791.31 904.13,789.99 910.17,788.69 916.22,787.40 922.26,786.13 928.30,784.86 934.34,783.62 940.38,782.38 946.42,781.16 952.46,779.95 958.50,778.75 964.54,777.57 970.59,776.39 976.63,775.23 982.67,774.08 988.71,772.94 994.75,771.81 1000.79,770.69 1006.83,769.58 1012.87,768.49 1018.91,767.40 1024.96,766.32 1031.00,765.26 1037.04,764.20 1043.08,763.15 1049.12,762.11 1055.16,761.08 1061.20,760.06 1067.24,759.05 1073.28,758.05 1079.33,757.06 1085.37,756.07 1091.41,755.10 1097.45,754.13 1103.49,753.17 1109.53,752.22 1115.57,751.27 1121.61,750.33 1127.65,749.41 1133.70,748.48 1139.74,747.57 1145.78,746.66 1151.82,745.76 1157.86,744.87 1163.90,743.99 1169.94,743.11 1175.98,742.24 1182.02,741.37 1188.07,740.51 1194.11,739.66 1200.15,738.82 1206.19,737.98 1212.23,737.15 1218.27,736.32 1224.31,735.50 1230.35,734.68 1236.39,733.88 1242.44,733.07 1248.48,732.28 1254.52,731.49 1260.56,730.70 1266.60,729.92 1272.64,729.15 1278.68,728.38 1284.72,727.61 1290.76,726.85 1296.81,726.10 1302.85,725.35 1308.89,724.61 1314.93,723.87 1320.97,723.14 1327.01,722.41 1333.05,721.69 1339.09,720.97 1345.13,720.26 1351.18,719.55 1357.22,718.84 1363.26,718.14 1369.30,717.45 1375.34,716.75 1381.38,716.07 1387.42,715.39 1393.46,714.71 1399.50,714.03 1405.55,713.36 1411.59,712.70 1417.63,712.04 1423.67,711.38 1429.71,710.73 1435.75,710.08 1441.79,709.43 1447.83,708.79 1453.87,708.15 1459.92,707.52 1465.96,706.89 1472.00,706.26 1478.04,705.64 1484.08,705.02 1490.12,704.40 1496.16,703.79 1502.20,703.18 1508.24,702.58 1514.29,701.97 1520.33,701.38 1526.37,700.78 1532.41,700.19 1538.45,699.60 1544.49,699.02 1550.53,698.43 1556.57,697.86 1562.62,697.28 1568.66,696.71 1574.70,696.14 1580.74,695.57 1586.78,695.01 1592.82,694.45 1598.86,693.89 1604.90,693.34 1610.94,692.79 1616.99,692.24 1623.03,691.69 1629.07,691.15 1635.11,690.61 1641.15,690.07 1647.19,689.54 1653.23,689.01 1659.27,688.48 1665.31,687.95 1671.36,687.43 1677.40,686.91 1683.44,686.39 1689.48,685.88 1695.52,685.36 1701.56,684.85 1707.60,684.34 1713.64,683.84 1719.68,683.34 1725.73,682.84 1731.77,682.34 1737.81,681.84 1743.85,681.35 1749.89,680.86 1755.93,680.37 1761.97,679.88 1768.01,679.40 1774.05,678.92 1780.10,678.44 1786.14,677.96 1792.18,677.49 1798.22,677.01 1804.26,676.54 1810.30,676.07 1816.34,675.61 1822.38,675.14 1828.42,674.68 1834.47,674.22 1840.51,673.76 1846.55,673.31 1852.59,672.86 1858.63,672.40 1864.67,671.95 1870.71,671.51 1876.75,671.06 1882.79,670.62 1888.84,670.18 1894.88,669.74 1900.92,669.30 1906.96,668.86 1913.00,668.43" stroke="#f0f" stroke-width="5" stroke-dasharray="27.3 5.9 5.05 4.8" stroke-dashoffset="1.6"/>
<line x1="266" y1="732.5" x2="1913" y2="732.5" stroke="#000" stroke-width="5" stroke-dasharray="13.1 4.5"/>
</g>
<g font-family="'DejaVu Sans', 'Liberation Sans', sans-serif" font-size="52.08" fill="#fff" stroke="#fff" stroke-width="19.3" stroke-linejoin="round" aria-hidden="true">
<text transform="translate(594.60 389.62) rotate(34.08)" y="14.00"><tspan x="-95.61" font-style="oblique">n</tspan><tspan x="-62.57 -18.91 14.26 30.83 64.00">=1.00</tspan></text>
<text transform="translate(593.40 464.09) rotate(30.35)" y="14.00"><tspan x="-95.61" font-style="oblique">n</tspan><tspan x="-62.57 -18.91 14.26 30.83 64.00">=0.80</tspan></text>
<text transform="translate(594.20 562.37) rotate(22.27)" y="14.00"><tspan x="-95.61" font-style="oblique">n</tspan><tspan x="-62.57 -18.91 14.26 30.83 64.00">=0.60</tspan></text>
<text transform="translate(594.40 695.13) rotate(5.63)" y="14.00"><tspan x="-95.61" font-style="oblique">n</tspan><tspan x="-62.57 -18.91 14.26 30.83 64.00">=0.40</tspan></text>
<text transform="translate(593.40 781.23) rotate(-7.83)" y="14.00"><tspan x="-95.61" font-style="oblique">n</tspan><tspan x="-62.57 -18.91 14.26 30.83 64.00">=0.30</tspan></text>
<text transform="translate(592.60 886.91) rotate(-24.75)" y="14.00"><tspan x="-94.18" font-style="oblique">n</tspan><tspan x="-61.14 -17.47 15.69 29.39 62.56">=0.20</tspan></text>
</g>
<g font-family="'DejaVu Sans', 'Liberation Sans', sans-serif" font-size="52.08" fill="#000" stroke="#000" stroke-width="1">
<text transform="translate(594.60 389.62) rotate(34.08)" y="14.00"><tspan x="-95.61" font-style="oblique">n</tspan><tspan x="-62.57 -18.91 14.26 30.83 64.00">=1.00</tspan></text>
<text transform="translate(593.40 464.09) rotate(30.35)" y="14.00"><tspan x="-95.61" font-style="oblique">n</tspan><tspan x="-62.57 -18.91 14.26 30.83 64.00">=0.80</tspan></text>
<text transform="translate(594.20 562.37) rotate(22.27)" y="14.00"><tspan x="-95.61" font-style="oblique">n</tspan><tspan x="-62.57 -18.91 14.26 30.83 64.00">=0.60</tspan></text>
<text transform="translate(594.40 695.13) rotate(5.63)" y="14.00"><tspan x="-95.61" font-style="oblique">n</tspan><tspan x="-62.57 -18.91 14.26 30.83 64.00">=0.40</tspan></text>
<text transform="translate(593.40 781.23) rotate(-7.83)" y="14.00"><tspan x="-95.61" font-style="oblique">n</tspan><tspan x="-62.57 -18.91 14.26 30.83 64.00">=0.30</tspan></text>
<text transform="translate(592.60 886.91) rotate(-24.75)" y="14.00"><tspan x="-94.18" font-style="oblique">n</tspan><tspan x="-61.14 -17.47 15.69 29.39 62.56">=0.20</tspan></text>
</g>
<rect x="266" y="46" width="1647" height="1606" fill="none" stroke="#000" stroke-width="4"/>
<g font-family="'DejaVu Sans', 'Liberation Sans', sans-serif" font-size="59.4" fill="#000" stroke="#000" stroke-width="1">
<text x="266.00" y="1710.4" text-anchor="middle">0.00</text>
<text x="595.40" y="1710.4" text-anchor="middle">0.20</text>
<text x="924.80" y="1710.4" text-anchor="middle">0.40</text>
<text x="1254.20" y="1710.4" text-anchor="middle">0.60</text>
<text x="1583.60" y="1710.4" text-anchor="middle">0.80</text>
<text x="1913.00" y="1710.4" text-anchor="middle">1.00</text>
<text x="252.3" y="1633.00" text-anchor="end">0.00</text>
<text x="252.3" y="1413.43" text-anchor="end">0.10</text>
<text x="252.3" y="1193.86" text-anchor="end">0.20</text>
<text x="252.3" y="974.29" text-anchor="end">0.30</text>
<text x="252.3" y="754.72" text-anchor="end">0.40</text>
<text x="252.3" y="535.15" text-anchor="end">0.50</text>
<text x="252.3" y="315.58" text-anchor="end">0.60</text>
<text x="252.3" y="96.01" text-anchor="end">0.70</text>
</g>
<g font-family="'DejaVu Sans', 'Liberation Sans', sans-serif" font-style="oblique" font-size="59.4" fill="#000" stroke="#000" stroke-width="1">
<text transform="translate(88 869) rotate(-90)">ϕ</text>
<text x="1077.4" y="1779">r</text>
<text x="1077.8" y="1777" font-style="normal">˜</text>
</g>
<line x1="1151" y1="214" x2="1270" y2="214" stroke="#000" stroke-width="6.2" stroke-linecap="square"/>
<line x1="1151" y1="300.5" x2="1270.3" y2="300.5" stroke="#f0f" stroke-width="7.2" stroke-dasharray="22 7.5"/>
<g font-family="'DejaVu Sans', 'Liberation Sans', sans-serif" fill="#000" stroke="#000" stroke-width="1">
<text x="1507" y="146.7" font-size="64.15" text-anchor="middle">Power-law fluid</text>
<text x="1316.5" y="234.5" font-size="59.35">Analytical solution</text>
<text x="1316.5" y="320.6" font-size="59.35">Present work</text>
</g>
</g>
<rect x="1128" y="75.5" width="756" height="281.9" rx="10" ry="10" fill="none" stroke="#ccc" stroke-width="4.6" shape-rendering="crispEdges"/>
</svg>
</body>
</html>
